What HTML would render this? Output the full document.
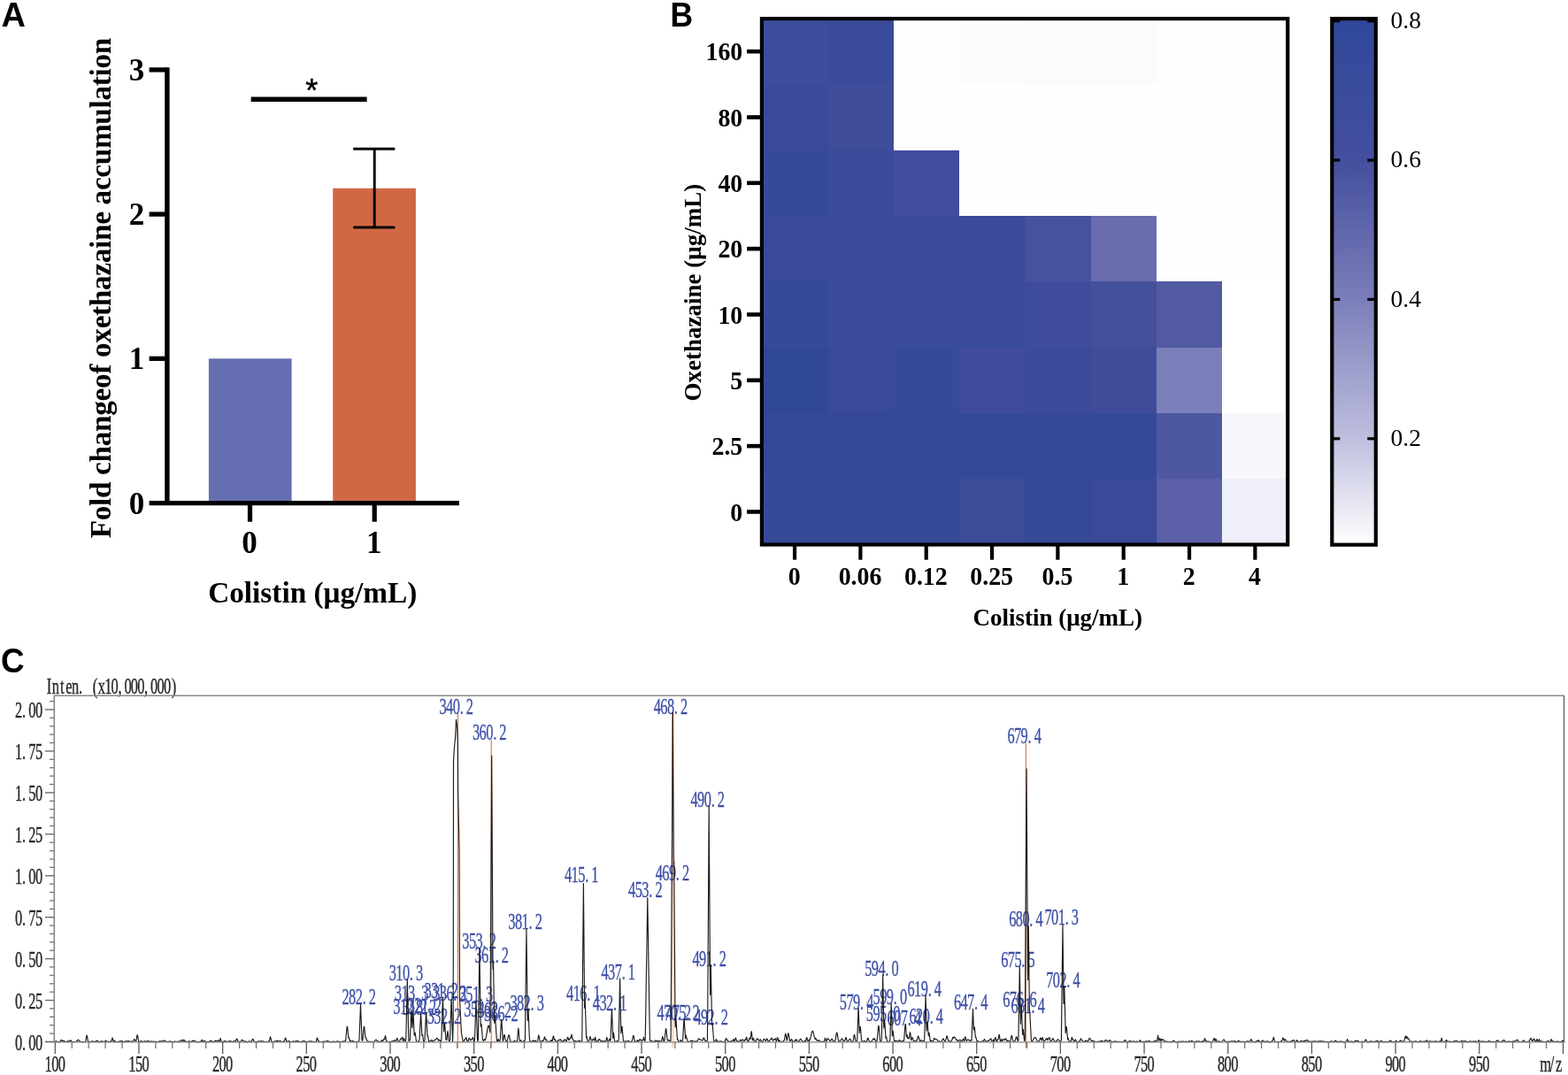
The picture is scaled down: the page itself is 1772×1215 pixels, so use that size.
<!DOCTYPE html>
<html lang="en"><head><meta charset="utf-8"><title>Figure: colistin and oxethazaine</title>
<style>html,body{margin:0;padding:0;background:#fff}body{width:1772px;height:1215px;overflow:hidden}svg{display:block}text{white-space:pre}</style>
</head><body>
<svg width="1772" height="1215" viewBox="0 0 1772 1215" role="img" aria-label="Figure with bar chart, heat map and mass spectrum">
<rect width="1772" height="1215" fill="#fff"/>
<g id="panelA">
<text x="1.4" y="30.0" font-family='"Liberation Sans", sans-serif' font-size="38" font-weight="bold" fill="#000">A</text>
<rect x="235.90" y="405.30" width="93.70" height="163.30" fill="#666eb2"/>
<rect x="376.20" y="212.80" width="93.70" height="355.80" fill="#d16845"/>
<line x1="423.20" y1="168.30" x2="423.20" y2="256.90" stroke="#000" stroke-width="2.9"/>
<line x1="399.20" y1="168.30" x2="446.30" y2="168.30" stroke="#000" stroke-width="3"/>
<line x1="399.20" y1="256.90" x2="446.30" y2="256.90" stroke="#000" stroke-width="3"/>
<line x1="188.90" y1="76.20" x2="188.90" y2="570.90" stroke="#000" stroke-width="5.4"/>
<line x1="168.60" y1="568.60" x2="518.90" y2="568.60" stroke="#000" stroke-width="5.2"/>
<line x1="168.60" y1="78.90" x2="188.90" y2="78.90" stroke="#000" stroke-width="5.3"/>
<text x="163.2" y="90.8" font-family='"Liberation Serif", serif' font-size="35" font-weight="bold" text-anchor="end" fill="#000">3</text>
<line x1="168.60" y1="242.10" x2="188.90" y2="242.10" stroke="#000" stroke-width="5.3"/>
<text x="163.2" y="254.0" font-family='"Liberation Serif", serif' font-size="35" font-weight="bold" text-anchor="end" fill="#000">2</text>
<line x1="168.60" y1="405.30" x2="188.90" y2="405.30" stroke="#000" stroke-width="5.3"/>
<text x="163.2" y="417.2" font-family='"Liberation Serif", serif' font-size="35" font-weight="bold" text-anchor="end" fill="#000">1</text>
<text x="163.2" y="580.5" font-family='"Liberation Serif", serif' font-size="35" font-weight="bold" text-anchor="end" fill="#000">0</text>
<line x1="282.50" y1="568.60" x2="282.50" y2="589.70" stroke="#000" stroke-width="5.2"/>
<text x="282.1" y="625.3" font-family='"Liberation Serif", serif' font-size="35" font-weight="bold" text-anchor="middle" fill="#000">0</text>
<line x1="423.20" y1="568.60" x2="423.20" y2="589.70" stroke="#000" stroke-width="5.2"/>
<text x="422.8" y="625.3" font-family='"Liberation Serif", serif' font-size="35" font-weight="bold" text-anchor="middle" fill="#000">1</text>
<line x1="283.70" y1="112.20" x2="414.60" y2="112.20" stroke="#000" stroke-width="5.4"/>
<text x="352.2" y="114.6" font-family='"Liberation Sans", sans-serif' font-size="36" text-anchor="middle" fill="#000" stroke="#000" stroke-width="0.5">*</text>
<text x="353.3" y="680.6" font-family='"Liberation Serif", serif' font-size="33.3" font-weight="bold" text-anchor="middle" fill="#000">Colistin (μg/mL)</text>
<text x="125.3" y="608.3" font-family='"Liberation Serif", serif' font-size="33.3" font-weight="bold" textLength="565.6" lengthAdjust="spacing" transform="rotate(-90 125.3 608.3)" fill="#000">Fold changeof oxethazaine accumulation</text>
</g>
<g id="panelB">
<text transform="translate(757.4 29.5) scale(0.935 1)" font-family='"Liberation Sans", sans-serif' font-size="38" font-weight="bold" fill="#000">B</text>
<g shape-rendering="crispEdges">
<rect x="861.00" y="21.00" width="74.00" height="74.00" fill="#3c4d9b"/>
<rect x="935.00" y="21.00" width="75.00" height="74.00" fill="#3a4b99"/>
<rect x="1010.00" y="21.00" width="74.00" height="74.00" fill="#fdfdfe"/>
<rect x="1084.00" y="21.00" width="74.00" height="74.00" fill="#fcfcfd"/>
<rect x="1158.00" y="21.00" width="75.00" height="74.00" fill="#fbfbfd"/>
<rect x="1233.00" y="21.00" width="74.00" height="74.00" fill="#fbfbfd"/>
<rect x="1307.00" y="21.00" width="74.00" height="74.00" fill="#fdfdfe"/>
<rect x="1381.00" y="21.00" width="75.00" height="74.00" fill="#fdfdfe"/>
<rect x="861.00" y="95.00" width="74.00" height="75.00" fill="#3a4b99"/>
<rect x="935.00" y="95.00" width="75.00" height="75.00" fill="#3f4c9a"/>
<rect x="1010.00" y="95.00" width="74.00" height="75.00" fill="#fefefe"/>
<rect x="1084.00" y="95.00" width="74.00" height="75.00" fill="#fefefe"/>
<rect x="1158.00" y="95.00" width="75.00" height="75.00" fill="#fefefe"/>
<rect x="1233.00" y="95.00" width="74.00" height="75.00" fill="#fefefe"/>
<rect x="1307.00" y="95.00" width="74.00" height="75.00" fill="#fefefe"/>
<rect x="1381.00" y="95.00" width="75.00" height="75.00" fill="#fdfdfe"/>
<rect x="861.00" y="170.00" width="74.00" height="74.00" fill="#374a98"/>
<rect x="935.00" y="170.00" width="75.00" height="74.00" fill="#394b99"/>
<rect x="1010.00" y="170.00" width="74.00" height="74.00" fill="#414d9c"/>
<rect x="1084.00" y="170.00" width="74.00" height="74.00" fill="#fdfdfe"/>
<rect x="1158.00" y="170.00" width="75.00" height="74.00" fill="#fefefe"/>
<rect x="1233.00" y="170.00" width="74.00" height="74.00" fill="#fefefe"/>
<rect x="1307.00" y="170.00" width="74.00" height="74.00" fill="#fefefe"/>
<rect x="1381.00" y="170.00" width="75.00" height="74.00" fill="#fefefe"/>
<rect x="861.00" y="244.00" width="74.00" height="74.00" fill="#384a98"/>
<rect x="935.00" y="244.00" width="75.00" height="74.00" fill="#3a4b99"/>
<rect x="1010.00" y="244.00" width="74.00" height="74.00" fill="#384a98"/>
<rect x="1084.00" y="244.00" width="74.00" height="74.00" fill="#394b99"/>
<rect x="1158.00" y="244.00" width="75.00" height="74.00" fill="#47529e"/>
<rect x="1233.00" y="244.00" width="74.00" height="74.00" fill="#696caf"/>
<rect x="1307.00" y="244.00" width="74.00" height="74.00" fill="#fefefe"/>
<rect x="1381.00" y="244.00" width="75.00" height="74.00" fill="#fefefe"/>
<rect x="861.00" y="318.00" width="74.00" height="75.00" fill="#374a98"/>
<rect x="935.00" y="318.00" width="75.00" height="75.00" fill="#3a4b99"/>
<rect x="1010.00" y="318.00" width="74.00" height="75.00" fill="#3a4b99"/>
<rect x="1084.00" y="318.00" width="74.00" height="75.00" fill="#3a4b99"/>
<rect x="1158.00" y="318.00" width="75.00" height="75.00" fill="#3f4c9b"/>
<rect x="1233.00" y="318.00" width="74.00" height="75.00" fill="#45509d"/>
<rect x="1307.00" y="318.00" width="74.00" height="75.00" fill="#525aa3"/>
<rect x="1381.00" y="318.00" width="75.00" height="75.00" fill="#ffffff"/>
<rect x="861.00" y="393.00" width="74.00" height="74.00" fill="#314897"/>
<rect x="935.00" y="393.00" width="75.00" height="74.00" fill="#384a98"/>
<rect x="1010.00" y="393.00" width="74.00" height="74.00" fill="#374a98"/>
<rect x="1084.00" y="393.00" width="74.00" height="74.00" fill="#404c9b"/>
<rect x="1158.00" y="393.00" width="75.00" height="74.00" fill="#3a4b99"/>
<rect x="1233.00" y="393.00" width="74.00" height="74.00" fill="#404c9a"/>
<rect x="1307.00" y="393.00" width="74.00" height="74.00" fill="#7b7fb9"/>
<rect x="1381.00" y="393.00" width="75.00" height="74.00" fill="#ffffff"/>
<rect x="861.00" y="467.00" width="74.00" height="74.00" fill="#354997"/>
<rect x="935.00" y="467.00" width="75.00" height="74.00" fill="#364997"/>
<rect x="1010.00" y="467.00" width="74.00" height="74.00" fill="#364997"/>
<rect x="1084.00" y="467.00" width="74.00" height="74.00" fill="#364997"/>
<rect x="1158.00" y="467.00" width="75.00" height="74.00" fill="#354997"/>
<rect x="1233.00" y="467.00" width="74.00" height="74.00" fill="#354997"/>
<rect x="1307.00" y="467.00" width="74.00" height="74.00" fill="#4e58a1"/>
<rect x="1381.00" y="467.00" width="75.00" height="74.00" fill="#f8f8fc"/>
<rect x="861.00" y="541.00" width="74.00" height="75.00" fill="#374a98"/>
<rect x="935.00" y="541.00" width="75.00" height="75.00" fill="#374a98"/>
<rect x="1010.00" y="541.00" width="74.00" height="75.00" fill="#374a98"/>
<rect x="1084.00" y="541.00" width="74.00" height="75.00" fill="#3b4c99"/>
<rect x="1158.00" y="541.00" width="75.00" height="75.00" fill="#364997"/>
<rect x="1233.00" y="541.00" width="74.00" height="75.00" fill="#384a98"/>
<rect x="1307.00" y="541.00" width="74.00" height="75.00" fill="#5b60a8"/>
<rect x="1381.00" y="541.00" width="75.00" height="75.00" fill="#eeeff9"/>
</g>
<rect x="860.90" y="21.10" width="594.34" height="594.44" fill="none" stroke="#000" stroke-width="4.2"/>
<line x1="844.10" y1="58.16" x2="859.50" y2="58.16" stroke="#000" stroke-width="4.6"/>
<text transform="translate(839.3 68.36) scale(0.945 1)" font-family='"Liberation Serif", serif' font-size="29.5" font-weight="bold" text-anchor="end" fill="#000">160</text>
<line x1="844.10" y1="132.50" x2="859.50" y2="132.50" stroke="#000" stroke-width="4.6"/>
<text transform="translate(839.3 142.69) scale(0.945 1)" font-family='"Liberation Serif", serif' font-size="29.5" font-weight="bold" text-anchor="end" fill="#000">80</text>
<line x1="844.10" y1="206.82" x2="859.50" y2="206.82" stroke="#000" stroke-width="4.6"/>
<text transform="translate(839.3 217.02) scale(0.945 1)" font-family='"Liberation Serif", serif' font-size="29.5" font-weight="bold" text-anchor="end" fill="#000">40</text>
<line x1="844.10" y1="281.15" x2="859.50" y2="281.15" stroke="#000" stroke-width="4.6"/>
<text transform="translate(839.3 291.35) scale(0.945 1)" font-family='"Liberation Serif", serif' font-size="29.5" font-weight="bold" text-anchor="end" fill="#000">20</text>
<line x1="844.10" y1="355.49" x2="859.50" y2="355.49" stroke="#000" stroke-width="4.6"/>
<text transform="translate(839.3 365.69) scale(0.945 1)" font-family='"Liberation Serif", serif' font-size="29.5" font-weight="bold" text-anchor="end" fill="#000">10</text>
<line x1="844.10" y1="429.81" x2="859.50" y2="429.81" stroke="#000" stroke-width="4.6"/>
<text transform="translate(839.3 440.01) scale(0.945 1)" font-family='"Liberation Serif", serif' font-size="29.5" font-weight="bold" text-anchor="end" fill="#000">5</text>
<line x1="844.10" y1="504.14" x2="859.50" y2="504.14" stroke="#000" stroke-width="4.6"/>
<text transform="translate(839.3 514.35) scale(0.945 1)" font-family='"Liberation Serif", serif' font-size="29.5" font-weight="bold" text-anchor="end" fill="#000">2.5</text>
<line x1="844.10" y1="578.48" x2="859.50" y2="578.48" stroke="#000" stroke-width="4.6"/>
<text transform="translate(839.3 588.68) scale(0.945 1)" font-family='"Liberation Serif", serif' font-size="29.5" font-weight="bold" text-anchor="end" fill="#000">0</text>
<line x1="898.06" y1="617.00" x2="898.06" y2="632.70" stroke="#000" stroke-width="4.2"/>
<text transform="translate(897.66 661.3) scale(0.945 1)" font-family='"Liberation Serif", serif' font-size="29.5" font-weight="bold" text-anchor="middle" fill="#000">0</text>
<line x1="972.39" y1="617.00" x2="972.39" y2="632.70" stroke="#000" stroke-width="4.2"/>
<text transform="translate(972.0 661.3) scale(0.945 1)" font-family='"Liberation Serif", serif' font-size="29.5" font-weight="bold" text-anchor="middle" fill="#000">0.06</text>
<line x1="1046.72" y1="617.00" x2="1046.72" y2="632.70" stroke="#000" stroke-width="4.2"/>
<text transform="translate(1046.32 661.3) scale(0.945 1)" font-family='"Liberation Serif", serif' font-size="29.5" font-weight="bold" text-anchor="middle" fill="#000">0.12</text>
<line x1="1121.05" y1="617.00" x2="1121.05" y2="632.70" stroke="#000" stroke-width="4.2"/>
<text transform="translate(1120.65 661.3) scale(0.945 1)" font-family='"Liberation Serif", serif' font-size="29.5" font-weight="bold" text-anchor="middle" fill="#000">0.25</text>
<line x1="1195.38" y1="617.00" x2="1195.38" y2="632.70" stroke="#000" stroke-width="4.2"/>
<text transform="translate(1194.98 661.3) scale(0.945 1)" font-family='"Liberation Serif", serif' font-size="29.5" font-weight="bold" text-anchor="middle" fill="#000">0.5</text>
<line x1="1269.71" y1="617.00" x2="1269.71" y2="632.70" stroke="#000" stroke-width="4.2"/>
<text transform="translate(1269.31 661.3) scale(0.945 1)" font-family='"Liberation Serif", serif' font-size="29.5" font-weight="bold" text-anchor="middle" fill="#000">1</text>
<line x1="1344.05" y1="617.00" x2="1344.05" y2="632.70" stroke="#000" stroke-width="4.2"/>
<text transform="translate(1343.64 661.3) scale(0.945 1)" font-family='"Liberation Serif", serif' font-size="29.5" font-weight="bold" text-anchor="middle" fill="#000">2</text>
<line x1="1418.38" y1="617.00" x2="1418.38" y2="632.70" stroke="#000" stroke-width="4.2"/>
<text transform="translate(1417.97 661.3) scale(0.945 1)" font-family='"Liberation Serif", serif' font-size="29.5" font-weight="bold" text-anchor="middle" fill="#000">4</text>
<text x="1195.2" y="707.2" font-family='"Liberation Serif", serif' font-size="27" font-weight="bold" text-anchor="middle" fill="#000">Colistin (μg/mL)</text>
<text x="792.2" y="330.6" font-family='"Liberation Serif", serif' font-size="27" font-weight="bold" text-anchor="middle" transform="rotate(-90 792.2 330.6)" fill="#000">Oxethazaine (μg/mL)</text>
<defs><linearGradient id="cb" x1="0" y1="0" x2="0" y2="1"><stop offset="0" stop-color="#30489a"/><stop offset="0.27" stop-color="#444f9e"/><stop offset="0.534" stop-color="#7b7eb9"/><stop offset="0.80" stop-color="#bfbfdf"/><stop offset="1" stop-color="#ffffff"/></linearGradient></defs>
<rect x="1505.3" y="21.1" width="49.5" height="594.6" fill="url(#cb)" stroke="#000" stroke-width="4.2"/>
<line x1="1507.00" y1="23.70" x2="1514.30" y2="23.70" stroke="#000" stroke-width="3.2"/>
<line x1="1545.30" y1="23.70" x2="1553.00" y2="23.70" stroke="#000" stroke-width="3.2"/>
<text x="1571.6" y="31.8" font-family='"Liberation Serif", serif' font-size="27.5" fill="#000">0.8</text>
<line x1="1507.00" y1="181.05" x2="1514.30" y2="181.05" stroke="#000" stroke-width="3.2"/>
<line x1="1545.30" y1="181.05" x2="1553.00" y2="181.05" stroke="#000" stroke-width="3.2"/>
<text x="1571.6" y="189.15" font-family='"Liberation Serif", serif' font-size="27.5" fill="#000">0.6</text>
<line x1="1507.00" y1="338.40" x2="1514.30" y2="338.40" stroke="#000" stroke-width="3.2"/>
<line x1="1545.30" y1="338.40" x2="1553.00" y2="338.40" stroke="#000" stroke-width="3.2"/>
<text x="1571.6" y="346.5" font-family='"Liberation Serif", serif' font-size="27.5" fill="#000">0.4</text>
<line x1="1507.00" y1="495.80" x2="1514.30" y2="495.80" stroke="#000" stroke-width="3.2"/>
<line x1="1545.30" y1="495.80" x2="1553.00" y2="495.80" stroke="#000" stroke-width="3.2"/>
<text x="1571.6" y="503.9" font-family='"Liberation Serif", serif' font-size="27.5" fill="#000">0.2</text>
</g>
<g id="panelC">
<text transform="translate(0.9 759.6) scale(0.955 1)" font-family='"Liberation Sans", sans-serif' font-size="38.6" font-weight="bold" fill="#000">C</text>
<text transform="translate(51.8 784.0) scale(0.67 1)" x="5.5 16.6 27.7 38.8 49.8 58.5 72.0 83.1 94.1 105.2 116.3 124.9 138.4 149.5 160.6 169.2 182.7 193.8 204.9 216.0" y="0" text-anchor="middle" font-family='"Liberation Serif", "Noto Serif CJK SC", serif' font-size="24.5" fill="#2b2826" stroke="#2b2826" stroke-width="0.4">Inten. (x10,000,000)</text>
<path d="M61.3 1177.5 V786.3 H1767.5" fill="none" stroke="#8d8986" stroke-width="1.6"/>
<line x1="1767.50" y1="786.00" x2="1767.50" y2="1177.50" stroke="#5f5b59" stroke-width="1.3"/>
<line x1="51.00" y1="1177.50" x2="62.00" y2="1177.50" stroke="#8a8683" stroke-width="1.5"/>
<line x1="51.00" y1="1177.50" x2="61.30" y2="1177.50" stroke="#6f6b68" stroke-width="1.4"/>
<text transform="translate(17.4 1186.5) scale(0.67 1)" x="5.7 14.5 28.4 39.7" y="0" text-anchor="middle" font-family='"Liberation Serif", "Noto Serif CJK SC", serif' font-size="24.5" fill="#2b2826" stroke="#2b2826" stroke-width="0.4">0.00</text>
<line x1="56.00" y1="1168.11" x2="61.30" y2="1168.11" stroke="#7a7673" stroke-width="1.3"/>
<line x1="56.00" y1="1158.72" x2="61.30" y2="1158.72" stroke="#7a7673" stroke-width="1.3"/>
<line x1="56.00" y1="1149.34" x2="61.30" y2="1149.34" stroke="#7a7673" stroke-width="1.3"/>
<line x1="56.00" y1="1139.95" x2="61.30" y2="1139.95" stroke="#7a7673" stroke-width="1.3"/>
<line x1="51.00" y1="1130.56" x2="61.30" y2="1130.56" stroke="#6f6b68" stroke-width="1.4"/>
<text transform="translate(17.4 1139.6) scale(0.67 1)" x="5.7 14.5 28.4 39.7" y="0" text-anchor="middle" font-family='"Liberation Serif", "Noto Serif CJK SC", serif' font-size="24.5" fill="#2b2826" stroke="#2b2826" stroke-width="0.4">0.25</text>
<line x1="56.00" y1="1121.17" x2="61.30" y2="1121.17" stroke="#7a7673" stroke-width="1.3"/>
<line x1="56.00" y1="1111.79" x2="61.30" y2="1111.79" stroke="#7a7673" stroke-width="1.3"/>
<line x1="56.00" y1="1102.40" x2="61.30" y2="1102.40" stroke="#7a7673" stroke-width="1.3"/>
<line x1="56.00" y1="1093.01" x2="61.30" y2="1093.01" stroke="#7a7673" stroke-width="1.3"/>
<line x1="51.00" y1="1083.62" x2="61.30" y2="1083.62" stroke="#6f6b68" stroke-width="1.4"/>
<text transform="translate(17.4 1092.6) scale(0.67 1)" x="5.7 14.5 28.4 39.7" y="0" text-anchor="middle" font-family='"Liberation Serif", "Noto Serif CJK SC", serif' font-size="24.5" fill="#2b2826" stroke="#2b2826" stroke-width="0.4">0.50</text>
<line x1="56.00" y1="1074.24" x2="61.30" y2="1074.24" stroke="#7a7673" stroke-width="1.3"/>
<line x1="56.00" y1="1064.85" x2="61.30" y2="1064.85" stroke="#7a7673" stroke-width="1.3"/>
<line x1="56.00" y1="1055.46" x2="61.30" y2="1055.46" stroke="#7a7673" stroke-width="1.3"/>
<line x1="56.00" y1="1046.08" x2="61.30" y2="1046.08" stroke="#7a7673" stroke-width="1.3"/>
<line x1="51.00" y1="1036.69" x2="61.30" y2="1036.69" stroke="#6f6b68" stroke-width="1.4"/>
<text transform="translate(17.4 1045.7) scale(0.67 1)" x="5.7 14.5 28.4 39.7" y="0" text-anchor="middle" font-family='"Liberation Serif", "Noto Serif CJK SC", serif' font-size="24.5" fill="#2b2826" stroke="#2b2826" stroke-width="0.4">0.75</text>
<line x1="56.00" y1="1027.30" x2="61.30" y2="1027.30" stroke="#7a7673" stroke-width="1.3"/>
<line x1="56.00" y1="1017.91" x2="61.30" y2="1017.91" stroke="#7a7673" stroke-width="1.3"/>
<line x1="56.00" y1="1008.52" x2="61.30" y2="1008.52" stroke="#7a7673" stroke-width="1.3"/>
<line x1="56.00" y1="999.14" x2="61.30" y2="999.14" stroke="#7a7673" stroke-width="1.3"/>
<line x1="51.00" y1="989.75" x2="61.30" y2="989.75" stroke="#6f6b68" stroke-width="1.4"/>
<text transform="translate(17.4 998.8) scale(0.67 1)" x="5.7 14.5 28.4 39.7" y="0" text-anchor="middle" font-family='"Liberation Serif", "Noto Serif CJK SC", serif' font-size="24.5" fill="#2b2826" stroke="#2b2826" stroke-width="0.4">1.00</text>
<line x1="56.00" y1="980.36" x2="61.30" y2="980.36" stroke="#7a7673" stroke-width="1.3"/>
<line x1="56.00" y1="970.98" x2="61.30" y2="970.98" stroke="#7a7673" stroke-width="1.3"/>
<line x1="56.00" y1="961.59" x2="61.30" y2="961.59" stroke="#7a7673" stroke-width="1.3"/>
<line x1="56.00" y1="952.20" x2="61.30" y2="952.20" stroke="#7a7673" stroke-width="1.3"/>
<line x1="51.00" y1="942.81" x2="61.30" y2="942.81" stroke="#6f6b68" stroke-width="1.4"/>
<text transform="translate(17.4 951.8) scale(0.67 1)" x="5.7 14.5 28.4 39.7" y="0" text-anchor="middle" font-family='"Liberation Serif", "Noto Serif CJK SC", serif' font-size="24.5" fill="#2b2826" stroke="#2b2826" stroke-width="0.4">1.25</text>
<line x1="56.00" y1="933.42" x2="61.30" y2="933.42" stroke="#7a7673" stroke-width="1.3"/>
<line x1="56.00" y1="924.04" x2="61.30" y2="924.04" stroke="#7a7673" stroke-width="1.3"/>
<line x1="56.00" y1="914.65" x2="61.30" y2="914.65" stroke="#7a7673" stroke-width="1.3"/>
<line x1="56.00" y1="905.26" x2="61.30" y2="905.26" stroke="#7a7673" stroke-width="1.3"/>
<line x1="51.00" y1="895.88" x2="61.30" y2="895.88" stroke="#6f6b68" stroke-width="1.4"/>
<text transform="translate(17.4 904.9) scale(0.67 1)" x="5.7 14.5 28.4 39.7" y="0" text-anchor="middle" font-family='"Liberation Serif", "Noto Serif CJK SC", serif' font-size="24.5" fill="#2b2826" stroke="#2b2826" stroke-width="0.4">1.50</text>
<line x1="56.00" y1="886.49" x2="61.30" y2="886.49" stroke="#7a7673" stroke-width="1.3"/>
<line x1="56.00" y1="877.10" x2="61.30" y2="877.10" stroke="#7a7673" stroke-width="1.3"/>
<line x1="56.00" y1="867.71" x2="61.30" y2="867.71" stroke="#7a7673" stroke-width="1.3"/>
<line x1="56.00" y1="858.33" x2="61.30" y2="858.33" stroke="#7a7673" stroke-width="1.3"/>
<line x1="51.00" y1="848.94" x2="61.30" y2="848.94" stroke="#6f6b68" stroke-width="1.4"/>
<text transform="translate(17.4 857.9) scale(0.67 1)" x="5.7 14.5 28.4 39.7" y="0" text-anchor="middle" font-family='"Liberation Serif", "Noto Serif CJK SC", serif' font-size="24.5" fill="#2b2826" stroke="#2b2826" stroke-width="0.4">1.75</text>
<line x1="56.00" y1="839.55" x2="61.30" y2="839.55" stroke="#7a7673" stroke-width="1.3"/>
<line x1="56.00" y1="830.16" x2="61.30" y2="830.16" stroke="#7a7673" stroke-width="1.3"/>
<line x1="56.00" y1="820.77" x2="61.30" y2="820.77" stroke="#7a7673" stroke-width="1.3"/>
<line x1="56.00" y1="811.39" x2="61.30" y2="811.39" stroke="#7a7673" stroke-width="1.3"/>
<line x1="51.00" y1="802.00" x2="61.30" y2="802.00" stroke="#6f6b68" stroke-width="1.4"/>
<text transform="translate(17.4 811.0) scale(0.67 1)" x="5.7 14.5 28.4 39.7" y="0" text-anchor="middle" font-family='"Liberation Serif", "Noto Serif CJK SC", serif' font-size="24.5" fill="#2b2826" stroke="#2b2826" stroke-width="0.4">2.00</text>
<line x1="56.00" y1="792.61" x2="61.30" y2="792.61" stroke="#7a7673" stroke-width="1.3"/>
<line x1="62.30" y1="1177.50" x2="62.30" y2="1191.00" stroke="#5d5957" stroke-width="1.3"/>
<text transform="translate(50.9 1211.0) scale(0.67 1)" x="5.7 17.0 28.4" y="0" text-anchor="middle" font-family='"Liberation Serif", "Noto Serif CJK SC", serif' font-size="24.5" fill="#2b2826" stroke="#2b2826" stroke-width="0.4">100</text>
<line x1="81.23" y1="1177.50" x2="81.23" y2="1185.00" stroke="#6f6b68" stroke-width="1.2"/>
<line x1="100.17" y1="1177.50" x2="100.17" y2="1185.00" stroke="#6f6b68" stroke-width="1.2"/>
<line x1="119.10" y1="1177.50" x2="119.10" y2="1185.00" stroke="#6f6b68" stroke-width="1.2"/>
<line x1="138.04" y1="1177.50" x2="138.04" y2="1185.00" stroke="#6f6b68" stroke-width="1.2"/>
<line x1="156.97" y1="1177.50" x2="156.97" y2="1191.00" stroke="#5d5957" stroke-width="1.3"/>
<text transform="translate(145.6 1211.0) scale(0.67 1)" x="5.7 17.0 28.4" y="0" text-anchor="middle" font-family='"Liberation Serif", "Noto Serif CJK SC", serif' font-size="24.5" fill="#2b2826" stroke="#2b2826" stroke-width="0.4">150</text>
<line x1="175.91" y1="1177.50" x2="175.91" y2="1185.00" stroke="#6f6b68" stroke-width="1.2"/>
<line x1="194.84" y1="1177.50" x2="194.84" y2="1185.00" stroke="#6f6b68" stroke-width="1.2"/>
<line x1="213.78" y1="1177.50" x2="213.78" y2="1185.00" stroke="#6f6b68" stroke-width="1.2"/>
<line x1="232.71" y1="1177.50" x2="232.71" y2="1185.00" stroke="#6f6b68" stroke-width="1.2"/>
<line x1="251.65" y1="1177.50" x2="251.65" y2="1191.00" stroke="#5d5957" stroke-width="1.3"/>
<text transform="translate(240.2 1211.0) scale(0.67 1)" x="5.7 17.0 28.4" y="0" text-anchor="middle" font-family='"Liberation Serif", "Noto Serif CJK SC", serif' font-size="24.5" fill="#2b2826" stroke="#2b2826" stroke-width="0.4">200</text>
<line x1="270.58" y1="1177.50" x2="270.58" y2="1185.00" stroke="#6f6b68" stroke-width="1.2"/>
<line x1="289.52" y1="1177.50" x2="289.52" y2="1185.00" stroke="#6f6b68" stroke-width="1.2"/>
<line x1="308.45" y1="1177.50" x2="308.45" y2="1185.00" stroke="#6f6b68" stroke-width="1.2"/>
<line x1="327.39" y1="1177.50" x2="327.39" y2="1185.00" stroke="#6f6b68" stroke-width="1.2"/>
<line x1="346.32" y1="1177.50" x2="346.32" y2="1191.00" stroke="#5d5957" stroke-width="1.3"/>
<text transform="translate(334.9 1211.0) scale(0.67 1)" x="5.7 17.0 28.4" y="0" text-anchor="middle" font-family='"Liberation Serif", "Noto Serif CJK SC", serif' font-size="24.5" fill="#2b2826" stroke="#2b2826" stroke-width="0.4">250</text>
<line x1="365.26" y1="1177.50" x2="365.26" y2="1185.00" stroke="#6f6b68" stroke-width="1.2"/>
<line x1="384.19" y1="1177.50" x2="384.19" y2="1185.00" stroke="#6f6b68" stroke-width="1.2"/>
<line x1="403.13" y1="1177.50" x2="403.13" y2="1185.00" stroke="#6f6b68" stroke-width="1.2"/>
<line x1="422.06" y1="1177.50" x2="422.06" y2="1185.00" stroke="#6f6b68" stroke-width="1.2"/>
<line x1="441.00" y1="1177.50" x2="441.00" y2="1191.00" stroke="#5d5957" stroke-width="1.3"/>
<text transform="translate(429.6 1211.0) scale(0.67 1)" x="5.7 17.0 28.4" y="0" text-anchor="middle" font-family='"Liberation Serif", "Noto Serif CJK SC", serif' font-size="24.5" fill="#2b2826" stroke="#2b2826" stroke-width="0.4">300</text>
<line x1="459.94" y1="1177.50" x2="459.94" y2="1185.00" stroke="#6f6b68" stroke-width="1.2"/>
<line x1="478.87" y1="1177.50" x2="478.87" y2="1185.00" stroke="#6f6b68" stroke-width="1.2"/>
<line x1="497.81" y1="1177.50" x2="497.81" y2="1185.00" stroke="#6f6b68" stroke-width="1.2"/>
<line x1="516.74" y1="1177.50" x2="516.74" y2="1185.00" stroke="#6f6b68" stroke-width="1.2"/>
<line x1="535.67" y1="1177.50" x2="535.67" y2="1191.00" stroke="#5d5957" stroke-width="1.3"/>
<text transform="translate(524.3 1211.0) scale(0.67 1)" x="5.7 17.0 28.4" y="0" text-anchor="middle" font-family='"Liberation Serif", "Noto Serif CJK SC", serif' font-size="24.5" fill="#2b2826" stroke="#2b2826" stroke-width="0.4">350</text>
<line x1="554.61" y1="1177.50" x2="554.61" y2="1185.00" stroke="#6f6b68" stroke-width="1.2"/>
<line x1="573.54" y1="1177.50" x2="573.54" y2="1185.00" stroke="#6f6b68" stroke-width="1.2"/>
<line x1="592.48" y1="1177.50" x2="592.48" y2="1185.00" stroke="#6f6b68" stroke-width="1.2"/>
<line x1="611.41" y1="1177.50" x2="611.41" y2="1185.00" stroke="#6f6b68" stroke-width="1.2"/>
<line x1="630.35" y1="1177.50" x2="630.35" y2="1191.00" stroke="#5d5957" stroke-width="1.3"/>
<text transform="translate(618.9 1211.0) scale(0.67 1)" x="5.7 17.0 28.4" y="0" text-anchor="middle" font-family='"Liberation Serif", "Noto Serif CJK SC", serif' font-size="24.5" fill="#2b2826" stroke="#2b2826" stroke-width="0.4">400</text>
<line x1="649.28" y1="1177.50" x2="649.28" y2="1185.00" stroke="#6f6b68" stroke-width="1.2"/>
<line x1="668.22" y1="1177.50" x2="668.22" y2="1185.00" stroke="#6f6b68" stroke-width="1.2"/>
<line x1="687.15" y1="1177.50" x2="687.15" y2="1185.00" stroke="#6f6b68" stroke-width="1.2"/>
<line x1="706.09" y1="1177.50" x2="706.09" y2="1185.00" stroke="#6f6b68" stroke-width="1.2"/>
<line x1="725.02" y1="1177.50" x2="725.02" y2="1191.00" stroke="#5d5957" stroke-width="1.3"/>
<text transform="translate(713.6 1211.0) scale(0.67 1)" x="5.7 17.0 28.4" y="0" text-anchor="middle" font-family='"Liberation Serif", "Noto Serif CJK SC", serif' font-size="24.5" fill="#2b2826" stroke="#2b2826" stroke-width="0.4">450</text>
<line x1="743.96" y1="1177.50" x2="743.96" y2="1185.00" stroke="#6f6b68" stroke-width="1.2"/>
<line x1="762.89" y1="1177.50" x2="762.89" y2="1185.00" stroke="#6f6b68" stroke-width="1.2"/>
<line x1="781.83" y1="1177.50" x2="781.83" y2="1185.00" stroke="#6f6b68" stroke-width="1.2"/>
<line x1="800.76" y1="1177.50" x2="800.76" y2="1185.00" stroke="#6f6b68" stroke-width="1.2"/>
<line x1="819.70" y1="1177.50" x2="819.70" y2="1191.00" stroke="#5d5957" stroke-width="1.3"/>
<text transform="translate(808.3 1211.0) scale(0.67 1)" x="5.7 17.0 28.4" y="0" text-anchor="middle" font-family='"Liberation Serif", "Noto Serif CJK SC", serif' font-size="24.5" fill="#2b2826" stroke="#2b2826" stroke-width="0.4">500</text>
<line x1="838.63" y1="1177.50" x2="838.63" y2="1185.00" stroke="#6f6b68" stroke-width="1.2"/>
<line x1="857.57" y1="1177.50" x2="857.57" y2="1185.00" stroke="#6f6b68" stroke-width="1.2"/>
<line x1="876.50" y1="1177.50" x2="876.50" y2="1185.00" stroke="#6f6b68" stroke-width="1.2"/>
<line x1="895.44" y1="1177.50" x2="895.44" y2="1185.00" stroke="#6f6b68" stroke-width="1.2"/>
<line x1="914.37" y1="1177.50" x2="914.37" y2="1191.00" stroke="#5d5957" stroke-width="1.3"/>
<text transform="translate(903.0 1211.0) scale(0.67 1)" x="5.7 17.0 28.4" y="0" text-anchor="middle" font-family='"Liberation Serif", "Noto Serif CJK SC", serif' font-size="24.5" fill="#2b2826" stroke="#2b2826" stroke-width="0.4">550</text>
<line x1="933.31" y1="1177.50" x2="933.31" y2="1185.00" stroke="#6f6b68" stroke-width="1.2"/>
<line x1="952.24" y1="1177.50" x2="952.24" y2="1185.00" stroke="#6f6b68" stroke-width="1.2"/>
<line x1="971.18" y1="1177.50" x2="971.18" y2="1185.00" stroke="#6f6b68" stroke-width="1.2"/>
<line x1="990.11" y1="1177.50" x2="990.11" y2="1185.00" stroke="#6f6b68" stroke-width="1.2"/>
<line x1="1009.05" y1="1177.50" x2="1009.05" y2="1191.00" stroke="#5d5957" stroke-width="1.3"/>
<text transform="translate(997.6 1211.0) scale(0.67 1)" x="5.7 17.0 28.4" y="0" text-anchor="middle" font-family='"Liberation Serif", "Noto Serif CJK SC", serif' font-size="24.5" fill="#2b2826" stroke="#2b2826" stroke-width="0.4">600</text>
<line x1="1027.98" y1="1177.50" x2="1027.98" y2="1185.00" stroke="#6f6b68" stroke-width="1.2"/>
<line x1="1046.92" y1="1177.50" x2="1046.92" y2="1185.00" stroke="#6f6b68" stroke-width="1.2"/>
<line x1="1065.86" y1="1177.50" x2="1065.86" y2="1185.00" stroke="#6f6b68" stroke-width="1.2"/>
<line x1="1084.79" y1="1177.50" x2="1084.79" y2="1185.00" stroke="#6f6b68" stroke-width="1.2"/>
<line x1="1103.72" y1="1177.50" x2="1103.72" y2="1191.00" stroke="#5d5957" stroke-width="1.3"/>
<text transform="translate(1092.3 1211.0) scale(0.67 1)" x="5.7 17.0 28.4" y="0" text-anchor="middle" font-family='"Liberation Serif", "Noto Serif CJK SC", serif' font-size="24.5" fill="#2b2826" stroke="#2b2826" stroke-width="0.4">650</text>
<line x1="1122.66" y1="1177.50" x2="1122.66" y2="1185.00" stroke="#6f6b68" stroke-width="1.2"/>
<line x1="1141.60" y1="1177.50" x2="1141.60" y2="1185.00" stroke="#6f6b68" stroke-width="1.2"/>
<line x1="1160.53" y1="1177.50" x2="1160.53" y2="1185.00" stroke="#6f6b68" stroke-width="1.2"/>
<line x1="1179.46" y1="1177.50" x2="1179.46" y2="1185.00" stroke="#6f6b68" stroke-width="1.2"/>
<line x1="1198.40" y1="1177.50" x2="1198.40" y2="1191.00" stroke="#5d5957" stroke-width="1.3"/>
<text transform="translate(1187.0 1211.0) scale(0.67 1)" x="5.7 17.0 28.4" y="0" text-anchor="middle" font-family='"Liberation Serif", "Noto Serif CJK SC", serif' font-size="24.5" fill="#2b2826" stroke="#2b2826" stroke-width="0.4">700</text>
<line x1="1217.34" y1="1177.50" x2="1217.34" y2="1185.00" stroke="#6f6b68" stroke-width="1.2"/>
<line x1="1236.27" y1="1177.50" x2="1236.27" y2="1185.00" stroke="#6f6b68" stroke-width="1.2"/>
<line x1="1255.20" y1="1177.50" x2="1255.20" y2="1185.00" stroke="#6f6b68" stroke-width="1.2"/>
<line x1="1274.14" y1="1177.50" x2="1274.14" y2="1185.00" stroke="#6f6b68" stroke-width="1.2"/>
<line x1="1293.07" y1="1177.50" x2="1293.07" y2="1191.00" stroke="#5d5957" stroke-width="1.3"/>
<text transform="translate(1281.7 1211.0) scale(0.67 1)" x="5.7 17.0 28.4" y="0" text-anchor="middle" font-family='"Liberation Serif", "Noto Serif CJK SC", serif' font-size="24.5" fill="#2b2826" stroke="#2b2826" stroke-width="0.4">750</text>
<line x1="1312.01" y1="1177.50" x2="1312.01" y2="1185.00" stroke="#6f6b68" stroke-width="1.2"/>
<line x1="1330.94" y1="1177.50" x2="1330.94" y2="1185.00" stroke="#6f6b68" stroke-width="1.2"/>
<line x1="1349.88" y1="1177.50" x2="1349.88" y2="1185.00" stroke="#6f6b68" stroke-width="1.2"/>
<line x1="1368.81" y1="1177.50" x2="1368.81" y2="1185.00" stroke="#6f6b68" stroke-width="1.2"/>
<line x1="1387.75" y1="1177.50" x2="1387.75" y2="1191.00" stroke="#5d5957" stroke-width="1.3"/>
<text transform="translate(1376.3 1211.0) scale(0.67 1)" x="5.7 17.0 28.4" y="0" text-anchor="middle" font-family='"Liberation Serif", "Noto Serif CJK SC", serif' font-size="24.5" fill="#2b2826" stroke="#2b2826" stroke-width="0.4">800</text>
<line x1="1406.68" y1="1177.50" x2="1406.68" y2="1185.00" stroke="#6f6b68" stroke-width="1.2"/>
<line x1="1425.62" y1="1177.50" x2="1425.62" y2="1185.00" stroke="#6f6b68" stroke-width="1.2"/>
<line x1="1444.55" y1="1177.50" x2="1444.55" y2="1185.00" stroke="#6f6b68" stroke-width="1.2"/>
<line x1="1463.49" y1="1177.50" x2="1463.49" y2="1185.00" stroke="#6f6b68" stroke-width="1.2"/>
<line x1="1482.42" y1="1177.50" x2="1482.42" y2="1191.00" stroke="#5d5957" stroke-width="1.3"/>
<text transform="translate(1471.0 1211.0) scale(0.67 1)" x="5.7 17.0 28.4" y="0" text-anchor="middle" font-family='"Liberation Serif", "Noto Serif CJK SC", serif' font-size="24.5" fill="#2b2826" stroke="#2b2826" stroke-width="0.4">850</text>
<line x1="1501.36" y1="1177.50" x2="1501.36" y2="1185.00" stroke="#6f6b68" stroke-width="1.2"/>
<line x1="1520.29" y1="1177.50" x2="1520.29" y2="1185.00" stroke="#6f6b68" stroke-width="1.2"/>
<line x1="1539.23" y1="1177.50" x2="1539.23" y2="1185.00" stroke="#6f6b68" stroke-width="1.2"/>
<line x1="1558.16" y1="1177.50" x2="1558.16" y2="1185.00" stroke="#6f6b68" stroke-width="1.2"/>
<line x1="1577.10" y1="1177.50" x2="1577.10" y2="1191.00" stroke="#5d5957" stroke-width="1.3"/>
<text transform="translate(1565.7 1211.0) scale(0.67 1)" x="5.7 17.0 28.4" y="0" text-anchor="middle" font-family='"Liberation Serif", "Noto Serif CJK SC", serif' font-size="24.5" fill="#2b2826" stroke="#2b2826" stroke-width="0.4">900</text>
<line x1="1596.03" y1="1177.50" x2="1596.03" y2="1185.00" stroke="#6f6b68" stroke-width="1.2"/>
<line x1="1614.97" y1="1177.50" x2="1614.97" y2="1185.00" stroke="#6f6b68" stroke-width="1.2"/>
<line x1="1633.90" y1="1177.50" x2="1633.90" y2="1185.00" stroke="#6f6b68" stroke-width="1.2"/>
<line x1="1652.84" y1="1177.50" x2="1652.84" y2="1185.00" stroke="#6f6b68" stroke-width="1.2"/>
<line x1="1671.77" y1="1177.50" x2="1671.77" y2="1191.00" stroke="#5d5957" stroke-width="1.3"/>
<text transform="translate(1660.4 1211.0) scale(0.67 1)" x="5.7 17.0 28.4" y="0" text-anchor="middle" font-family='"Liberation Serif", "Noto Serif CJK SC", serif' font-size="24.5" fill="#2b2826" stroke="#2b2826" stroke-width="0.4">950</text>
<line x1="1690.71" y1="1177.50" x2="1690.71" y2="1185.00" stroke="#6f6b68" stroke-width="1.2"/>
<line x1="1709.64" y1="1177.50" x2="1709.64" y2="1185.00" stroke="#6f6b68" stroke-width="1.2"/>
<line x1="1728.58" y1="1177.50" x2="1728.58" y2="1185.00" stroke="#6f6b68" stroke-width="1.2"/>
<line x1="1747.51" y1="1177.50" x2="1747.51" y2="1185.00" stroke="#6f6b68" stroke-width="1.2"/>
<line x1="1766.45" y1="1177.50" x2="1766.45" y2="1191.00" stroke="#5d5957" stroke-width="1.3"/>
<text transform="translate(1742.7 1211.0) scale(0.67 1)" x="5.7 17.0 28.4" y="0" text-anchor="middle" font-family='"Liberation Serif", "Noto Serif CJK SC", serif' font-size="24.5" fill="#2b2826" stroke="#2b2826" stroke-width="0.4">m/z</text>
<rect x="759.10" y="1000.00" width="2.60" height="184.00" fill="#f6dac8"/>
<line x1="517.40" y1="804.70" x2="517.40" y2="1184.00" stroke="#d98452" stroke-width="1.25"/>
<line x1="555.20" y1="836.30" x2="555.20" y2="1184.00" stroke="#d98452" stroke-width="1.25"/>
<line x1="759.80" y1="804.70" x2="759.80" y2="1000.00" stroke="#d98452" stroke-width="1.25"/>
<line x1="1159.40" y1="839.60" x2="1159.40" y2="1184.00" stroke="#d98452" stroke-width="1.25"/>
<text transform="translate(386.8 1135.4) scale(0.67 1)" x="5.7 17.0 28.4 37.2 51.0" y="0" text-anchor="middle" font-family='"Liberation Serif", "Noto Serif CJK SC", serif' font-size="24.5" fill="#3d4fa6" stroke="#3d4fa6" stroke-width="0.3">282.2</text>
<text transform="translate(440.0 1107.8) scale(0.67 1)" x="5.7 17.0 28.4 37.2 51.0" y="0" text-anchor="middle" font-family='"Liberation Serif", "Noto Serif CJK SC", serif' font-size="24.5" fill="#3d4fa6" stroke="#3d4fa6" stroke-width="0.3">310.3</text>
<text transform="translate(446.1 1130.7) scale(0.67 1)" x="5.7 17.0 28.4 37.2 51.0" y="0" text-anchor="middle" font-family='"Liberation Serif", "Noto Serif CJK SC", serif' font-size="24.5" fill="#3d4fa6" stroke="#3d4fa6" stroke-width="0.3">313.3</text>
<text transform="translate(444.6 1145.9) scale(0.67 1)" x="5.7 17.0 28.4 37.2 51.0" y="0" text-anchor="middle" font-family='"Liberation Serif", "Noto Serif CJK SC", serif' font-size="24.5" fill="#3d4fa6" stroke="#3d4fa6" stroke-width="0.3">312.2</text>
<text transform="translate(455.0 1146.6) scale(0.67 1)" x="5.7 17.0 28.4 37.2 51.0" y="0" text-anchor="middle" font-family='"Liberation Serif", "Noto Serif CJK SC", serif' font-size="24.5" fill="#3d4fa6" stroke="#3d4fa6" stroke-width="0.3">318.2</text>
<text transform="translate(461.0 1144.6) scale(0.67 1)" x="5.7 17.0 28.4 37.2 51.0" y="0" text-anchor="middle" font-family='"Liberation Serif", "Noto Serif CJK SC", serif' font-size="24.5" fill="#3d4fa6" stroke="#3d4fa6" stroke-width="0.3">321.2</text>
<text transform="translate(479.7 1127.6) scale(0.67 1)" x="5.7 17.0 28.4 37.2 51.0" y="0" text-anchor="middle" font-family='"Liberation Serif", "Noto Serif CJK SC", serif' font-size="24.5" fill="#3d4fa6" stroke="#3d4fa6" stroke-width="0.3">331.2</text>
<text transform="translate(483.0 1156.6) scale(0.67 1)" x="5.7 17.0 28.4 37.2 51.0" y="0" text-anchor="middle" font-family='"Liberation Serif", "Noto Serif CJK SC", serif' font-size="24.5" fill="#3d4fa6" stroke="#3d4fa6" stroke-width="0.3">332.2</text>
<text transform="translate(489.5 1130.6) scale(0.67 1)" x="5.7 17.0 28.4 37.2 51.0" y="0" text-anchor="middle" font-family='"Liberation Serif", "Noto Serif CJK SC", serif' font-size="24.5" fill="#3d4fa6" stroke="#3d4fa6" stroke-width="0.3">336.2</text>
<text transform="translate(496.8 806.5) scale(0.67 1)" x="5.7 17.0 28.4 37.2 51.0" y="0" text-anchor="middle" font-family='"Liberation Serif", "Noto Serif CJK SC", serif' font-size="24.5" fill="#3d4fa6" stroke="#3d4fa6" stroke-width="0.3">340.2</text>
<text transform="translate(519.0 1132.2) scale(0.67 1)" x="5.7 17.0 28.4 37.2 51.0" y="0" text-anchor="middle" font-family='"Liberation Serif", "Noto Serif CJK SC", serif' font-size="24.5" fill="#3d4fa6" stroke="#3d4fa6" stroke-width="0.3">351.3</text>
<text transform="translate(522.6 1071.9) scale(0.67 1)" x="5.7 17.0 28.4 37.2 51.0" y="0" text-anchor="middle" font-family='"Liberation Serif", "Noto Serif CJK SC", serif' font-size="24.5" fill="#3d4fa6" stroke="#3d4fa6" stroke-width="0.3">353.2</text>
<text transform="translate(524.6 1148.5) scale(0.67 1)" x="5.7 17.0 28.4 37.2 51.0" y="0" text-anchor="middle" font-family='"Liberation Serif", "Noto Serif CJK SC", serif' font-size="24.5" fill="#3d4fa6" stroke="#3d4fa6" stroke-width="0.3">354.2</text>
<text transform="translate(534.3 836.2) scale(0.67 1)" x="5.7 17.0 28.4 37.2 51.0" y="0" text-anchor="middle" font-family='"Liberation Serif", "Noto Serif CJK SC", serif' font-size="24.5" fill="#3d4fa6" stroke="#3d4fa6" stroke-width="0.3">360.2</text>
<text transform="translate(536.8 1087.5) scale(0.67 1)" x="5.7 17.0 28.4 37.2 51.0" y="0" text-anchor="middle" font-family='"Liberation Serif", "Noto Serif CJK SC", serif' font-size="24.5" fill="#3d4fa6" stroke="#3d4fa6" stroke-width="0.3">361.2</text>
<text transform="translate(539.8 1150.0) scale(0.67 1)" x="5.7 17.0 28.4 37.2 51.0" y="0" text-anchor="middle" font-family='"Liberation Serif", "Noto Serif CJK SC", serif' font-size="24.5" fill="#3d4fa6" stroke="#3d4fa6" stroke-width="0.3">362.2</text>
<text transform="translate(547.4 1153.6) scale(0.67 1)" x="5.7 17.0 28.4 37.2 51.0" y="0" text-anchor="middle" font-family='"Liberation Serif", "Noto Serif CJK SC", serif' font-size="24.5" fill="#3d4fa6" stroke="#3d4fa6" stroke-width="0.3">366.2</text>
<text transform="translate(574.6 1050.2) scale(0.67 1)" x="5.7 17.0 28.4 37.2 51.0" y="0" text-anchor="middle" font-family='"Liberation Serif", "Noto Serif CJK SC", serif' font-size="24.5" fill="#3d4fa6" stroke="#3d4fa6" stroke-width="0.3">381.2</text>
<text transform="translate(576.7 1142.4) scale(0.67 1)" x="5.7 17.0 28.4 37.2 51.0" y="0" text-anchor="middle" font-family='"Liberation Serif", "Noto Serif CJK SC", serif' font-size="24.5" fill="#3d4fa6" stroke="#3d4fa6" stroke-width="0.3">382.3</text>
<text transform="translate(638.3 997.4) scale(0.67 1)" x="5.7 17.0 28.4 37.2 51.0" y="0" text-anchor="middle" font-family='"Liberation Serif", "Noto Serif CJK SC", serif' font-size="24.5" fill="#3d4fa6" stroke="#3d4fa6" stroke-width="0.3">415.1</text>
<text transform="translate(640.4 1131.2) scale(0.67 1)" x="5.7 17.0 28.4 37.2 51.0" y="0" text-anchor="middle" font-family='"Liberation Serif", "Noto Serif CJK SC", serif' font-size="24.5" fill="#3d4fa6" stroke="#3d4fa6" stroke-width="0.3">416.1</text>
<text transform="translate(670.1 1142.4) scale(0.67 1)" x="5.7 17.0 28.4 37.2 51.0" y="0" text-anchor="middle" font-family='"Liberation Serif", "Noto Serif CJK SC", serif' font-size="24.5" fill="#3d4fa6" stroke="#3d4fa6" stroke-width="0.3">432.1</text>
<text transform="translate(679.8 1106.8) scale(0.67 1)" x="5.7 17.0 28.4 37.2 51.0" y="0" text-anchor="middle" font-family='"Liberation Serif", "Noto Serif CJK SC", serif' font-size="24.5" fill="#3d4fa6" stroke="#3d4fa6" stroke-width="0.3">437.1</text>
<text transform="translate(710.4 1013.9) scale(0.67 1)" x="5.7 17.0 28.4 37.2 51.0" y="0" text-anchor="middle" font-family='"Liberation Serif", "Noto Serif CJK SC", serif' font-size="24.5" fill="#3d4fa6" stroke="#3d4fa6" stroke-width="0.3">453.2</text>
<text transform="translate(739.0 806.5) scale(0.67 1)" x="5.7 17.0 28.4 37.2 51.0" y="0" text-anchor="middle" font-family='"Liberation Serif", "Noto Serif CJK SC", serif' font-size="24.5" fill="#3d4fa6" stroke="#3d4fa6" stroke-width="0.3">468.2</text>
<text transform="translate(741.0 995.1) scale(0.67 1)" x="5.7 17.0 28.4 37.2 51.0" y="0" text-anchor="middle" font-family='"Liberation Serif", "Noto Serif CJK SC", serif' font-size="24.5" fill="#3d4fa6" stroke="#3d4fa6" stroke-width="0.3">469.2</text>
<text transform="translate(742.9 1152.6) scale(0.67 1)" x="5.7 17.0 28.4 37.2 51.0" y="0" text-anchor="middle" font-family='"Liberation Serif", "Noto Serif CJK SC", serif' font-size="24.5" fill="#3d4fa6" stroke="#3d4fa6" stroke-width="0.3">470.2</text>
<text transform="translate(752.4 1152.6) scale(0.67 1)" x="5.7 17.0 28.4 37.2 51.0" y="0" text-anchor="middle" font-family='"Liberation Serif", "Noto Serif CJK SC", serif' font-size="24.5" fill="#3d4fa6" stroke="#3d4fa6" stroke-width="0.3">475.2</text>
<text transform="translate(780.8 912.3) scale(0.67 1)" x="5.7 17.0 28.4 37.2 51.0" y="0" text-anchor="middle" font-family='"Liberation Serif", "Noto Serif CJK SC", serif' font-size="24.5" fill="#3d4fa6" stroke="#3d4fa6" stroke-width="0.3">490.2</text>
<text transform="translate(782.7 1091.6) scale(0.67 1)" x="5.7 17.0 28.4 37.2 51.0" y="0" text-anchor="middle" font-family='"Liberation Serif", "Noto Serif CJK SC", serif' font-size="24.5" fill="#3d4fa6" stroke="#3d4fa6" stroke-width="0.3">491.2</text>
<text transform="translate(784.7 1158.1) scale(0.67 1)" x="5.7 17.0 28.4 37.2 51.0" y="0" text-anchor="middle" font-family='"Liberation Serif", "Noto Serif CJK SC", serif' font-size="24.5" fill="#3d4fa6" stroke="#3d4fa6" stroke-width="0.3">492.2</text>
<text transform="translate(949.1 1140.9) scale(0.67 1)" x="5.7 17.0 28.4 37.2 51.0" y="0" text-anchor="middle" font-family='"Liberation Serif", "Noto Serif CJK SC", serif' font-size="24.5" fill="#3d4fa6" stroke="#3d4fa6" stroke-width="0.3">579.4</text>
<text transform="translate(977.5 1103.3) scale(0.67 1)" x="5.7 17.0 28.4 37.2 51.0" y="0" text-anchor="middle" font-family='"Liberation Serif", "Noto Serif CJK SC", serif' font-size="24.5" fill="#3d4fa6" stroke="#3d4fa6" stroke-width="0.3">594.0</text>
<text transform="translate(979.1 1154.1) scale(0.67 1)" x="5.7 17.0 28.4 37.2 51.0" y="0" text-anchor="middle" font-family='"Liberation Serif", "Noto Serif CJK SC", serif' font-size="24.5" fill="#3d4fa6" stroke="#3d4fa6" stroke-width="0.3">595.0</text>
<text transform="translate(986.9 1135.3) scale(0.67 1)" x="5.7 17.0 28.4 37.2 51.0" y="0" text-anchor="middle" font-family='"Liberation Serif", "Noto Serif CJK SC", serif' font-size="24.5" fill="#3d4fa6" stroke="#3d4fa6" stroke-width="0.3">599.0</text>
<text transform="translate(1002.9 1159.1) scale(0.67 1)" x="5.7 17.0 28.4 37.2 51.0" y="0" text-anchor="middle" font-family='"Liberation Serif", "Noto Serif CJK SC", serif' font-size="24.5" fill="#3d4fa6" stroke="#3d4fa6" stroke-width="0.3">607.4</text>
<text transform="translate(1025.8 1125.6) scale(0.67 1)" x="5.7 17.0 28.4 37.2 51.0" y="0" text-anchor="middle" font-family='"Liberation Serif", "Noto Serif CJK SC", serif' font-size="24.5" fill="#3d4fa6" stroke="#3d4fa6" stroke-width="0.3">619.4</text>
<text transform="translate(1027.8 1156.6) scale(0.67 1)" x="5.7 17.0 28.4 37.2 51.0" y="0" text-anchor="middle" font-family='"Liberation Serif", "Noto Serif CJK SC", serif' font-size="24.5" fill="#3d4fa6" stroke="#3d4fa6" stroke-width="0.3">620.4</text>
<text transform="translate(1078.2 1141.4) scale(0.67 1)" x="5.7 17.0 28.4 37.2 51.0" y="0" text-anchor="middle" font-family='"Liberation Serif", "Noto Serif CJK SC", serif' font-size="24.5" fill="#3d4fa6" stroke="#3d4fa6" stroke-width="0.3">647.4</text>
<text transform="translate(1131.5 1093.1) scale(0.67 1)" x="5.7 17.0 28.4 37.2 51.0" y="0" text-anchor="middle" font-family='"Liberation Serif", "Noto Serif CJK SC", serif' font-size="24.5" fill="#3d4fa6" stroke="#3d4fa6" stroke-width="0.3">675.5</text>
<text transform="translate(1133.5 1137.8) scale(0.67 1)" x="5.7 17.0 28.4 37.2 51.0" y="0" text-anchor="middle" font-family='"Liberation Serif", "Noto Serif CJK SC", serif' font-size="24.5" fill="#3d4fa6" stroke="#3d4fa6" stroke-width="0.3">676.6</text>
<text transform="translate(1138.7 840.2) scale(0.67 1)" x="5.7 17.0 28.4 37.2 51.0" y="0" text-anchor="middle" font-family='"Liberation Serif", "Noto Serif CJK SC", serif' font-size="24.5" fill="#3d4fa6" stroke="#3d4fa6" stroke-width="0.3">679.4</text>
<text transform="translate(1140.5 1047.4) scale(0.67 1)" x="5.7 17.0 28.4 37.2 51.0" y="0" text-anchor="middle" font-family='"Liberation Serif", "Noto Serif CJK SC", serif' font-size="24.5" fill="#3d4fa6" stroke="#3d4fa6" stroke-width="0.3">680.4</text>
<text transform="translate(1142.7 1144.9) scale(0.67 1)" x="5.7 17.0 28.4 37.2 51.0" y="0" text-anchor="middle" font-family='"Liberation Serif", "Noto Serif CJK SC", serif' font-size="24.5" fill="#3d4fa6" stroke="#3d4fa6" stroke-width="0.3">681.4</text>
<text transform="translate(1180.8 1044.6) scale(0.67 1)" x="5.7 17.0 28.4 37.2 51.0" y="0" text-anchor="middle" font-family='"Liberation Serif", "Noto Serif CJK SC", serif' font-size="24.5" fill="#3d4fa6" stroke="#3d4fa6" stroke-width="0.3">701.3</text>
<text transform="translate(1182.5 1115.5) scale(0.67 1)" x="5.7 17.0 28.4 37.2 51.0" y="0" text-anchor="middle" font-family='"Liberation Serif", "Noto Serif CJK SC", serif' font-size="24.5" fill="#3d4fa6" stroke="#3d4fa6" stroke-width="0.3">702.4</text>
<path d="M62.0,1177.1 62.8,1177.0 63.2,1176.8 63.4,1177.0 63.8,1176.9 64.4,1177.2 64.6,1177.1 64.8,1177.4 65.0,1177.3 65.2,1177.7 65.4,1177.5 67.2,1177.7 67.6,1177.3 67.8,1177.5 68.0,1177.4 69.0,1175.6 69.4,1175.3 70.4,1176.5 70.8,1176.3 71.0,1176.5 71.2,1176.2 72.4,1176.4 73.2,1176.8 73.4,1177.5 75.2,1177.5 75.6,1177.2 76.0,1177.3 76.2,1176.9 77.0,1176.6 77.2,1176.8 77.8,1176.8 78.0,1177.1 78.2,1176.8 78.4,1177.1 79.7,1175.7 80.2,1176.0 80.8,1177.0 81.8,1177.2 82.0,1177.4 85.4,1177.5 86.4,1177.0 86.6,1176.5 87.8,1176.1 88.2,1175.2 88.4,1175.1 88.6,1175.2 89.2,1176.0 89.4,1176.0 90.2,1177.4 90.4,1177.3 91.0,1177.5 91.4,1177.2 93.8,1177.6 96.0,1177.5 96.6,1177.1 97.0,1176.1 97.8,1170.9 98.1,1170.0 98.4,1170.9 99.4,1176.7 100.2,1177.5 101.8,1177.5 102.2,1177.3 102.4,1177.4 102.8,1177.4 103.4,1177.3 103.8,1176.9 104.0,1177.0 104.2,1176.8 104.8,1176.7 105.4,1177.5 106.4,1177.3 106.6,1177.5 107.8,1177.1 108.0,1177.3 108.2,1176.9 108.4,1177.2 109.6,1176.1 110.4,1176.4 110.8,1177.1 111.2,1177.3 111.4,1177.8 112.0,1177.7 112.6,1177.4 112.8,1177.5 113.2,1177.0 113.8,1177.1 114.0,1176.7 114.4,1177.1 115.4,1177.0 115.6,1176.8 116.0,1177.3 116.2,1177.1 117.0,1177.2 117.2,1177.5 118.0,1177.5 118.6,1177.1 119.6,1176.0 120.2,1177.1 120.6,1177.4 121.8,1177.4 122.2,1177.1 123.0,1177.5 124.0,1177.5 124.2,1177.2 124.4,1177.3 124.6,1177.1 125.2,1177.0 125.4,1176.8 125.6,1176.9 125.8,1176.8 127.0,1172.9 127.4,1173.9 128.0,1176.4 128.4,1177.1 129.2,1175.9 130.2,1177.4 130.8,1177.2 131.4,1177.4 131.6,1177.3 132.0,1177.5 134.2,1177.5 135.0,1177.1 135.2,1176.7 136.0,1176.5 136.8,1177.1 137.0,1176.9 137.4,1177.2 137.6,1176.9 138.0,1176.6 138.2,1176.8 138.4,1176.5 139.0,1177.7 139.6,1177.8 139.8,1177.6 141.0,1177.5 141.2,1177.2 141.4,1177.4 142.0,1176.6 143.2,1177.1 144.0,1176.8 144.2,1176.9 144.8,1176.4 145.0,1176.5 145.4,1176.5 146.0,1177.1 147.0,1177.5 148.4,1176.8 148.6,1176.8 149.0,1177.3 149.6,1177.5 150.8,1176.8 151.7,1174.4 152.2,1175.5 152.6,1175.5 153.0,1176.4 153.4,1176.9 153.6,1176.9 154.0,1175.6 154.8,1170.8 155.2,1169.6 155.6,1170.8 156.6,1176.3 157.0,1177.2 157.8,1177.5 158.2,1177.5 158.6,1177.2 158.8,1177.4 159.6,1176.4 160.6,1177.4 162.2,1177.4 162.4,1177.2 162.6,1177.4 163.2,1176.9 163.6,1176.9 164.0,1176.7 166.0,1177.4 166.8,1176.8 167.0,1176.4 167.6,1176.2 168.0,1176.9 168.8,1177.6 169.6,1177.1 170.0,1177.2 170.6,1177.0 171.0,1177.4 171.2,1177.0 171.6,1177.3 171.8,1177.1 172.0,1177.3 172.4,1177.2 172.6,1177.6 172.8,1177.2 173.2,1177.6 173.8,1177.1 174.4,1177.0 174.8,1177.2 175.8,1177.2 176.0,1177.4 176.2,1177.3 176.4,1177.5 176.6,1177.3 176.8,1177.5 177.0,1177.4 177.2,1177.5 179.2,1177.6 179.6,1177.4 180.0,1176.7 180.6,1176.9 180.8,1177.2 181.4,1176.8 182.2,1177.1 182.6,1176.9 182.8,1177.1 183.2,1176.8 183.6,1177.0 185.0,1176.1 185.6,1176.0 186.4,1176.3 187.4,1177.0 189.0,1177.5 190.2,1177.5 190.6,1177.2 191.0,1177.3 191.2,1177.0 192.0,1177.1 192.8,1176.9 193.4,1177.4 193.8,1177.3 194.2,1177.5 196.8,1177.5 197.2,1177.0 197.8,1177.3 198.0,1177.1 198.2,1177.3 198.6,1177.2 199.6,1177.3 199.8,1177.5 200.0,1177.3 201.2,1177.4 202.0,1177.1 202.4,1177.2 202.6,1177.0 203.2,1177.5 203.4,1176.9 203.6,1176.8 203.8,1177.2 205.5,1175.1 206.6,1177.3 207.8,1175.0 208.8,1177.1 209.0,1177.2 209.2,1176.9 210.0,1177.2 210.2,1177.0 211.4,1177.5 212.2,1177.5 212.6,1177.3 212.8,1177.5 213.4,1176.8 213.8,1176.7 214.8,1177.4 216.6,1177.4 217.0,1177.0 217.2,1176.4 218.0,1175.9 218.2,1176.3 218.8,1176.5 219.8,1176.2 220.0,1176.6 220.6,1176.7 222.8,1177.8 224.0,1177.6 225.2,1177.6 225.4,1177.3 226.0,1177.5 226.6,1177.1 227.0,1177.3 227.6,1176.7 228.2,1175.2 228.4,1175.3 229.4,1177.3 229.6,1177.3 230.0,1176.8 230.2,1177.0 231.0,1176.4 231.4,1176.3 231.8,1176.9 232.0,1176.8 232.6,1177.5 232.8,1177.5 233.2,1177.7 233.8,1177.8 234.4,1177.4 234.8,1177.6 235.0,1177.4 235.2,1177.7 235.6,1177.4 235.8,1177.6 236.6,1177.1 237.4,1176.9 237.6,1177.1 238.2,1176.1 238.8,1176.4 239.8,1177.5 240.6,1177.3 240.8,1177.6 242.2,1177.2 242.8,1176.2 243.2,1176.3 243.4,1176.8 244.2,1176.2 245.2,1177.1 245.6,1176.9 245.8,1177.0 246.4,1175.7 247.6,1177.0 248.2,1176.9 249.0,1173.6 249.2,1173.5 249.6,1175.5 250.2,1177.2 251.0,1177.8 251.4,1177.7 251.8,1177.9 252.0,1177.6 252.4,1177.7 253.2,1176.5 253.4,1176.4 253.8,1177.0 254.2,1177.2 254.6,1176.9 255.2,1176.9 255.6,1177.2 255.8,1176.9 256.2,1177.4 256.8,1177.5 257.2,1177.3 258.0,1177.2 258.2,1176.9 258.4,1177.2 258.8,1177.1 259.4,1176.7 259.8,1177.1 260.0,1176.6 260.4,1176.6 261.2,1177.2 261.4,1177.0 262.0,1177.5 262.2,1177.3 262.6,1177.7 263.4,1177.4 264.4,1176.5 264.6,1176.7 265.2,1176.7 265.4,1177.1 265.6,1176.8 265.8,1177.0 266.2,1176.7 266.4,1176.8 267.4,1174.3 267.8,1174.1 269.0,1176.9 269.4,1177.0 269.6,1177.4 271.0,1177.4 271.8,1177.6 272.6,1176.8 273.2,1175.4 273.6,1175.2 274.8,1176.2 275.0,1176.6 276.0,1176.9 276.2,1177.1 276.8,1177.1 277.0,1176.8 277.4,1177.4 277.6,1177.4 277.8,1177.2 278.0,1177.3 278.2,1177.2 278.6,1177.7 279.0,1177.5 279.2,1177.7 279.6,1177.5 279.8,1177.6 280.8,1177.0 281.8,1177.1 282.2,1176.9 283.8,1177.6 284.4,1177.0 285.4,1174.4 285.8,1174.2 287.0,1176.7 289.4,1177.9 289.6,1177.6 290.0,1177.8 290.4,1177.8 291.2,1177.1 292.6,1176.7 292.8,1177.0 293.2,1177.0 293.4,1177.2 294.8,1176.9 295.4,1176.6 295.6,1176.7 296.6,1176.8 297.2,1177.1 297.4,1176.9 297.8,1177.2 298.0,1177.1 298.2,1177.4 298.6,1177.3 299.2,1177.5 301.4,1177.5 302.6,1177.4 302.8,1177.1 303.0,1177.3 303.4,1176.9 303.6,1177.2 304.4,1176.6 305.4,1172.1 305.6,1171.8 306.8,1176.7 307.2,1177.4 307.6,1177.5 308.6,1177.5 309.0,1177.3 309.4,1177.4 309.6,1177.1 310.4,1176.9 311.4,1177.5 312.0,1177.1 312.4,1176.4 312.8,1176.0 313.2,1176.1 313.8,1176.9 314.2,1177.0 314.4,1176.8 314.8,1177.1 316.8,1176.4 317.8,1177.5 319.2,1177.5 319.4,1177.3 319.8,1177.4 320.2,1177.1 320.6,1177.2 321.2,1176.4 321.6,1176.2 322.2,1173.7 322.6,1172.9 323.0,1173.9 323.6,1176.3 324.2,1177.4 324.6,1177.1 325.0,1177.3 325.8,1177.1 326.2,1176.7 326.4,1176.9 326.6,1176.4 327.0,1176.5 327.8,1177.5 328.2,1177.6 329.8,1177.5 330.6,1177.1 330.8,1177.2 331.2,1176.9 331.4,1177.1 331.6,1176.9 332.0,1176.9 332.6,1177.2 333.4,1177.1 333.6,1177.4 334.2,1176.9 334.4,1177.1 334.6,1176.8 335.0,1176.6 335.2,1176.9 335.4,1176.6 335.6,1176.7 336.0,1176.6 336.4,1176.8 336.8,1176.7 337.2,1177.2 337.4,1176.8 337.6,1177.3 337.8,1177.2 338.4,1177.5 339.2,1177.5 339.8,1177.7 340.2,1177.6 340.4,1177.7 340.6,1177.4 341.2,1177.2 341.4,1177.0 342.0,1176.8 342.2,1177.1 342.4,1176.9 342.8,1176.9 343.0,1176.7 343.2,1176.8 343.4,1176.6 343.8,1176.7 344.0,1176.5 344.6,1176.9 345.2,1177.7 345.6,1177.6 345.8,1177.9 346.8,1177.4 347.4,1177.5 347.6,1177.3 348.0,1177.4 348.4,1177.0 348.8,1177.2 349.0,1177.0 349.2,1177.1 350.2,1177.1 351.0,1176.7 352.6,1177.4 353.0,1177.0 354.6,1177.5 356.8,1177.5 357.4,1176.7 358.2,1173.5 358.5,1173.0 358.8,1173.5 359.8,1177.0 360.2,1177.0 360.6,1177.3 360.8,1177.1 361.4,1177.4 361.6,1177.3 361.8,1177.5 363.0,1177.5 363.2,1177.3 363.6,1177.5 365.2,1177.4 365.6,1177.2 365.8,1177.4 366.2,1177.0 367.0,1177.0 367.6,1177.5 368.8,1177.1 369.4,1176.3 370.0,1176.4 370.2,1176.6 371.0,1176.7 371.2,1177.0 371.6,1176.9 372.0,1177.4 372.6,1177.4 373.0,1177.8 373.4,1177.9 373.6,1177.6 374.0,1177.8 375.0,1177.6 375.2,1177.4 375.6,1177.5 375.8,1177.2 376.0,1177.5 376.4,1177.1 377.0,1177.4 377.6,1177.4 377.8,1177.6 378.0,1177.4 379.0,1177.6 380.0,1177.1 380.4,1177.4 380.6,1177.1 381.4,1176.8 381.6,1177.0 382.4,1177.1 382.8,1177.4 386.0,1177.5 386.2,1177.3 386.6,1177.3 387.4,1176.9 388.6,1177.3 389.6,1176.8 389.8,1176.4 390.0,1176.3 390.2,1176.5 390.6,1176.1 392.0,1161.9 392.3,1160.2 392.6,1160.3 392.8,1161.8 393.8,1172.9 394.2,1172.3 394.4,1172.6 395.4,1176.7 395.8,1175.6 396.6,1177.5 396.8,1177.0 397.0,1177.4 397.2,1177.3 397.6,1176.9 398.8,1176.4 399.6,1177.3 399.8,1177.2 400.4,1177.5 402.2,1177.5 402.4,1177.4 403.0,1177.5 403.8,1177.3 404.2,1177.4 404.8,1177.2 405.6,1176.6 405.8,1176.3 406.0,1175.1 407.5,1135.1 409.0,1175.0 409.2,1176.2 409.6,1176.2 409.8,1175.9 411.2,1160.7 411.4,1160.3 411.6,1160.3 411.8,1160.7 412.8,1172.2 413.0,1172.6 413.4,1172.3 413.6,1172.6 414.2,1175.4 414.4,1175.8 414.8,1175.5 415.2,1176.5 415.8,1177.2 416.0,1177.0 416.6,1177.2 417.2,1177.2 417.4,1177.4 417.6,1177.1 417.8,1177.4 418.8,1177.5 419.8,1177.2 420.2,1177.2 420.4,1177.4 421.2,1177.3 421.4,1177.5 422.2,1177.5 422.8,1177.2 424.8,1175.1 425.8,1175.8 426.8,1177.1 427.8,1177.1 428.0,1176.9 428.8,1177.5 430.4,1177.4 431.4,1175.6 431.6,1175.6 432.0,1176.1 432.2,1176.1 432.6,1176.7 432.8,1176.6 433.9,1174.0 434.2,1174.0 434.6,1174.8 435.4,1170.6 435.8,1171.8 436.4,1175.8 437.2,1177.1 437.6,1177.0 438.0,1177.4 438.6,1177.5 440.8,1177.5 441.2,1177.3 441.8,1177.4 442.0,1177.2 442.2,1177.4 443.8,1176.7 444.0,1176.9 444.2,1176.7 444.4,1177.0 444.6,1177.0 445.8,1175.6 446.0,1175.6 447.2,1176.7 447.8,1176.2 448.4,1174.0 448.8,1173.3 450.0,1176.9 450.4,1177.4 451.2,1177.5 451.6,1177.2 452.6,1174.0 453.6,1173.8 453.8,1174.1 454.0,1174.1 454.6,1172.2 455.6,1176.8 456.6,1173.5 457.4,1176.4 457.8,1177.0 458.6,1175.6 458.8,1174.2 460.3,1106.8 461.6,1166.5 461.8,1174.5 462.0,1176.2 462.4,1176.6 463.2,1175.6 463.4,1175.0 464.8,1141.8 465.0,1141.8 465.8,1161.7 466.0,1161.1 466.8,1144.3 467.0,1144.1 468.2,1170.5 468.6,1168.0 468.8,1167.2 469.0,1167.1 469.4,1169.0 470.2,1175.5 470.4,1176.3 470.8,1177.0 471.8,1177.3 472.8,1177.3 473.4,1176.8 474.0,1175.6 475.5,1146.4 475.7,1146.6 475.8,1148.1 476.8,1169.8 477.0,1170.5 477.3,1169.4 477.4,1169.3 477.6,1169.8 478.4,1175.5 478.8,1177.0 479.0,1177.1 479.2,1177.0 480.0,1176.0 481.5,1144.9 481.7,1144.9 481.8,1146.6 482.8,1169.4 483.0,1170.7 483.3,1170.3 483.6,1171.2 484.6,1176.8 485.2,1177.4 485.6,1177.2 486.0,1176.4 486.2,1176.5 486.4,1176.1 486.6,1176.3 487.2,1176.2 488.0,1175.5 488.6,1176.3 488.8,1177.0 489.2,1177.1 489.8,1176.7 490.0,1176.8 490.4,1176.0 490.8,1175.9 491.2,1175.3 492.0,1175.5 493.6,1173.3 494.2,1173.5 494.6,1173.9 495.2,1175.5 495.6,1176.1 495.8,1176.1 496.6,1175.2 497.0,1175.4 497.6,1176.8 498.0,1177.0 498.4,1176.6 498.8,1176.0 499.0,1172.1 500.4,1127.2 501.6,1165.9 502.2,1158.7 502.4,1157.4 502.6,1157.4 504.0,1175.1 504.2,1175.0 504.8,1175.7 505.8,1166.1 506.0,1165.5 506.4,1167.9 507.0,1174.5 507.4,1176.6 507.6,1176.7 507.8,1176.4 508.4,1176.2 508.6,1174.9 510.0,1130.2 510.1,1129.7 510.2,1130.2 511.6,1177.0 512.2,1156.1 512.5,861.5 513.2,847.5 514.5,834.5 515.5,813.3 516.6,821.5 517.3,837.5 517.6,892.5 519.0,959.5 519.5,1129.5 521.4,1167.1 523.2,1177.3 523.8,1177.4 524.4,1176.8 525.2,1174.5 526.2,1174.1 526.8,1172.5 527.8,1176.3 528.4,1177.4 528.8,1177.0 529.0,1177.0 529.6,1174.6 530.2,1173.2 530.4,1173.2 530.8,1173.8 531.6,1175.7 532.0,1175.9 532.4,1175.6 533.0,1174.3 533.4,1174.3 533.8,1174.0 534.4,1172.4 534.8,1173.5 535.4,1176.7 535.6,1177.0 536.4,1176.1 538.0,1131.0 539.4,1172.4 539.6,1176.0 540.0,1176.4 540.2,1176.2 540.4,1173.6 540.6,1161.9 541.9,1071.5 543.2,1160.1 543.6,1157.3 544.0,1157.3 545.4,1174.8 546.0,1176.0 546.4,1176.4 547.2,1174.9 547.6,1174.5 548.2,1175.8 548.8,1174.4 549.6,1170.8 551.2,1161.3 551.9,1159.2 552.2,1159.1 552.4,1159.4 552.8,1160.6 553.8,1166.8 554.2,1123.2 555.7,854.2 557.0,1091.2 557.2,1095.6 557.5,1085.8 558.6,1152.8 558.8,1156.3 559.4,1149.3 559.6,1149.4 561.4,1176.2 562.2,1176.9 562.6,1176.2 563.0,1174.5 563.2,1174.4 564.2,1177.0 565.0,1176.3 565.2,1175.5 566.4,1155.0 566.7,1152.5 567.0,1155.0 568.2,1175.5 568.4,1176.3 568.6,1176.3 568.8,1175.5 569.6,1170.5 570.0,1169.2 570.4,1170.3 571.0,1174.2 572.2,1177.3 572.8,1177.1 573.4,1176.0 574.4,1171.3 575.0,1169.8 575.4,1170.4 576.6,1175.9 577.2,1177.1 578.2,1177.5 580.2,1177.5 581.0,1176.3 581.4,1176.1 581.8,1176.7 582.4,1177.0 583.2,1177.2 583.4,1177.0 583.6,1177.0 584.0,1177.3 584.4,1176.5 584.6,1175.4 585.8,1162.0 586.2,1164.8 586.8,1173.3 587.0,1175.0 587.4,1176.2 587.6,1176.5 587.8,1176.4 588.6,1175.6 589.2,1177.2 589.6,1177.5 590.2,1177.5 591.0,1177.2 591.2,1176.7 591.8,1176.8 592.0,1176.7 592.2,1176.9 592.6,1176.1 593.0,1176.4 593.2,1176.2 593.4,1173.2 593.6,1159.2 594.9,1049.9 596.2,1153.5 596.8,1140.5 597.0,1140.3 598.2,1170.8 598.6,1176.2 599.4,1177.1 600.2,1177.4 600.8,1177.2 601.0,1177.3 601.2,1177.1 601.4,1177.3 601.8,1177.0 602.4,1175.8 602.8,1175.9 603.4,1176.8 603.8,1176.5 604.0,1176.8 604.2,1176.6 604.4,1176.7 604.6,1176.4 604.8,1176.6 605.2,1176.1 606.0,1177.5 607.0,1177.4 607.6,1176.5 608.6,1170.3 608.8,1169.9 609.2,1171.4 609.8,1175.6 610.4,1177.3 611.2,1177.3 611.4,1177.5 612.2,1176.8 612.6,1176.0 612.8,1176.2 613.0,1176.0 613.4,1176.6 614.2,1176.2 615.4,1171.8 615.8,1172.5 616.4,1175.4 616.8,1175.5 617.4,1174.9 618.6,1177.4 619.2,1177.5 620.0,1177.3 620.4,1177.0 620.8,1177.2 622.0,1176.9 622.4,1176.5 622.8,1175.5 623.2,1175.5 623.6,1176.5 624.0,1177.0 624.4,1175.8 625.0,1172.2 625.4,1170.8 625.6,1171.1 626.4,1175.3 626.6,1174.7 627.0,1174.6 628.0,1176.9 628.2,1176.8 629.0,1177.5 629.6,1177.5 630.8,1175.7 631.0,1175.5 631.6,1175.9 632.2,1175.7 632.6,1175.1 632.8,1175.2 633.0,1174.6 633.2,1174.6 634.0,1175.7 634.2,1176.4 635.2,1177.5 635.6,1177.5 635.8,1177.4 636.4,1176.3 636.8,1176.0 637.0,1176.2 637.4,1176.3 637.6,1176.2 638.0,1175.2 638.4,1174.8 639.0,1175.3 639.6,1176.7 639.8,1176.5 640.0,1176.6 640.4,1176.3 641.4,1172.3 641.8,1172.4 642.0,1172.8 642.8,1175.5 643.4,1175.5 644.4,1173.1 644.6,1172.8 645.0,1173.4 645.2,1173.0 645.9,1169.2 646.2,1169.9 646.6,1172.8 646.8,1173.0 647.2,1174.6 647.6,1175.5 648.6,1176.4 648.8,1176.8 650.0,1176.3 650.4,1176.8 651.4,1177.3 651.6,1177.0 651.8,1177.2 652.8,1176.8 653.6,1176.9 654.6,1175.9 655.0,1176.0 655.6,1177.3 656.0,1177.4 657.0,1177.0 657.8,1176.2 659.4,998.4 660.6,1139.2 661.0,1130.9 661.1,1130.5 661.2,1130.8 662.6,1172.7 662.9,1171.4 663.1,1171.5 663.8,1175.7 664.2,1177.1 665.0,1177.4 665.6,1176.9 667.0,1171.5 668.0,1175.3 668.6,1176.0 669.2,1176.3 670.0,1174.7 670.6,1174.1 671.2,1175.1 671.4,1175.9 671.6,1176.2 671.8,1176.0 672.6,1172.2 673.6,1176.7 674.0,1177.4 674.6,1177.1 674.8,1176.5 675.0,1176.5 675.2,1176.3 675.6,1176.6 676.0,1176.5 676.4,1176.0 677.0,1174.3 677.8,1175.3 678.2,1175.2 679.0,1176.7 679.2,1176.9 679.4,1176.8 679.6,1177.2 679.8,1177.2 680.2,1176.7 680.6,1176.8 680.8,1176.5 681.2,1176.6 682.0,1176.5 682.6,1177.2 682.8,1176.9 683.2,1177.4 683.6,1177.0 683.8,1177.0 684.4,1176.3 684.8,1176.5 685.8,1172.3 686.8,1176.7 687.2,1176.8 687.8,1176.6 688.8,1174.2 689.6,1176.1 689.8,1176.3 690.0,1176.1 691.3,1141.4 691.5,1141.4 692.6,1171.7 692.8,1173.5 693.5,1167.4 694.4,1175.5 694.8,1177.1 695.4,1177.5 696.6,1176.9 697.2,1176.3 697.6,1176.7 698.4,1177.0 699.2,1176.0 700.6,1105.8 701.8,1167.9 702.0,1167.4 702.6,1160.4 703.0,1160.3 704.4,1176.1 705.0,1176.9 706.0,1177.4 706.6,1176.8 706.8,1177.1 707.4,1176.7 707.6,1177.1 707.8,1177.0 708.4,1177.1 708.8,1176.9 709.0,1177.1 709.2,1177.0 709.8,1176.4 710.4,1176.4 711.8,1177.5 713.4,1177.5 714.6,1175.6 715.4,1171.3 715.8,1170.3 716.2,1171.4 717.0,1175.8 717.4,1177.0 717.8,1177.4 719.2,1177.4 720.0,1176.4 720.4,1175.6 721.6,1177.2 721.8,1177.1 722.8,1174.8 723.0,1174.8 723.4,1175.4 723.6,1175.2 723.8,1175.3 724.0,1175.0 725.0,1176.3 725.4,1176.2 725.6,1175.9 726.0,1175.9 726.4,1175.4 726.6,1175.5 726.8,1175.4 727.5,1172.3 728.4,1176.5 729.0,1176.3 729.2,1174.8 729.6,1154.1 731.8,1014.5 734.0,1154.0 734.4,1174.7 734.6,1176.2 735.2,1176.5 735.6,1176.3 736.8,1176.9 737.0,1176.7 737.8,1176.7 738.4,1177.0 738.8,1177.5 740.0,1177.5 740.6,1175.8 740.8,1175.9 741.4,1177.0 742.2,1176.4 742.8,1176.6 743.0,1176.8 744.4,1176.4 744.6,1176.4 744.8,1176.8 745.0,1176.6 745.4,1177.1 745.6,1176.9 746.2,1177.3 747.6,1176.6 748.8,1171.3 750.0,1176.6 750.2,1177.1 750.4,1177.1 750.8,1176.3 751.2,1174.3 752.2,1164.4 752.6,1162.5 753.0,1164.1 753.8,1172.4 754.4,1176.1 755.2,1175.7 755.4,1175.9 755.6,1175.7 756.2,1175.6 756.8,1176.4 757.2,1176.7 757.4,1176.6 758.0,1176.2 758.2,1161.9 760.4,805.4 761.4,976.6 761.6,980.9 761.7,973.3 763.0,1152.1 763.2,1160.9 763.8,1151.4 764.0,1151.4 765.4,1174.8 765.6,1174.3 765.8,1174.3 766.6,1176.5 767.2,1177.3 767.6,1177.2 767.8,1177.4 768.2,1177.3 768.8,1176.8 769.4,1175.4 770.0,1176.6 770.4,1177.1 770.6,1177.0 771.4,1176.3 771.6,1175.4 772.8,1154.6 773.0,1152.0 773.2,1151.9 774.6,1173.8 775.2,1170.1 775.8,1173.5 776.2,1173.5 777.0,1176.5 777.6,1177.5 778.4,1177.3 778.6,1177.5 778.8,1177.3 779.0,1177.5 779.4,1177.5 780.0,1176.8 780.2,1176.2 781.0,1176.5 782.0,1176.0 783.2,1177.1 783.4,1176.9 783.6,1177.3 784.6,1177.0 785.6,1177.3 786.0,1176.7 786.6,1177.3 787.0,1177.3 787.2,1177.0 787.6,1176.9 788.0,1176.4 788.2,1176.5 789.4,1174.0 789.8,1174.0 790.8,1174.8 791.0,1174.8 791.6,1175.2 791.8,1175.5 792.0,1175.4 792.2,1175.7 792.6,1175.5 792.8,1175.8 793.8,1176.0 794.2,1175.8 794.8,1173.9 795.4,1172.9 795.8,1173.2 796.2,1175.0 797.0,1176.5 797.2,1176.2 797.8,1176.3 798.4,1177.0 799.4,1176.1 799.8,1136.8 801.2,910.7 802.6,1124.4 803.3,1090.3 804.6,1158.5 804.8,1157.2 804.9,1157.5 805.2,1157.5 806.6,1176.1 807.4,1177.0 808.2,1177.1 808.8,1176.5 809.4,1174.5 809.8,1175.0 810.4,1176.6 810.6,1176.5 810.8,1177.0 811.2,1177.2 811.6,1177.3 811.8,1177.1 812.0,1177.3 812.6,1177.3 813.0,1177.0 813.4,1176.9 813.6,1177.2 814.0,1177.2 814.8,1176.9 815.2,1177.2 815.6,1177.1 815.8,1177.5 816.0,1177.3 816.2,1177.5 816.4,1177.4 817.6,1177.7 818.6,1177.2 819.2,1177.2 820.4,1173.6 820.8,1174.0 821.0,1174.8 821.4,1175.3 822.0,1175.6 822.2,1175.4 823.4,1177.5 824.4,1177.5 825.0,1177.1 825.2,1177.3 825.4,1177.3 826.0,1176.8 826.4,1177.0 827.0,1176.9 827.2,1176.6 827.4,1176.7 827.6,1176.5 828.0,1176.6 829.0,1174.5 829.6,1176.4 830.0,1176.7 830.4,1176.3 831.0,1174.0 831.4,1173.1 832.6,1176.5 833.0,1176.8 833.6,1176.9 833.8,1177.1 834.0,1176.8 834.4,1177.5 835.0,1177.3 835.2,1177.5 835.6,1177.3 836.0,1176.8 836.8,1175.0 837.8,1176.4 838.4,1175.9 839.2,1174.8 840.0,1175.6 840.2,1176.3 840.6,1176.4 840.8,1176.6 841.4,1176.3 842.2,1174.7 842.6,1175.4 842.8,1175.2 843.4,1172.6 843.6,1172.3 844.0,1173.3 844.8,1176.8 845.4,1177.3 845.8,1177.0 846.2,1176.1 846.8,1173.8 847.2,1173.0 847.6,1173.3 848.0,1174.3 848.2,1174.2 848.8,1168.0 849.2,1165.6 849.4,1166.3 850.4,1175.7 851.0,1174.9 851.4,1173.4 851.6,1173.4 852.2,1176.1 852.8,1177.4 853.0,1177.2 853.2,1177.5 854.0,1177.1 855.4,1174.0 855.8,1173.8 856.4,1174.3 857.8,1176.2 858.2,1176.3 858.4,1175.9 858.8,1175.8 859.2,1174.9 859.6,1174.9 860.2,1177.0 860.6,1177.3 860.8,1177.2 861.4,1177.8 861.6,1177.5 861.8,1177.6 862.2,1177.2 862.8,1174.8 863.2,1174.3 863.8,1174.5 864.4,1175.5 865.4,1176.4 866.8,1173.9 868.2,1177.0 868.6,1177.4 869.2,1176.9 869.4,1176.4 869.6,1176.4 870.0,1175.4 870.6,1174.9 871.0,1175.0 872.0,1173.0 872.8,1174.9 873.4,1175.9 873.8,1176.0 874.6,1174.7 875.0,1175.0 875.2,1175.0 875.4,1174.8 875.6,1175.0 876.0,1173.9 876.4,1174.0 877.0,1175.9 877.4,1176.7 877.6,1176.5 878.4,1173.0 878.7,1172.5 880.0,1176.9 880.4,1175.7 880.6,1175.6 881.6,1177.4 882.0,1177.2 882.2,1177.5 882.8,1177.3 884.6,1177.5 886.4,1175.6 887.4,1169.3 887.8,1168.1 888.2,1169.6 889.2,1176.1 889.6,1174.7 890.6,1168.3 890.9,1167.7 891.4,1169.4 892.2,1174.8 892.8,1176.6 893.0,1176.3 893.4,1176.4 893.8,1176.0 894.6,1174.5 895.0,1175.1 895.6,1176.9 896.2,1177.5 896.4,1177.4 897.2,1177.5 897.4,1177.3 897.8,1177.2 898.6,1175.3 899.0,1175.3 899.4,1176.1 900.2,1174.7 901.2,1177.0 901.4,1177.3 902.0,1177.5 902.4,1177.4 903.0,1176.8 903.2,1176.8 903.4,1176.1 903.6,1176.0 904.2,1174.6 904.8,1174.1 906.8,1177.2 907.2,1177.3 908.2,1177.1 908.4,1177.4 908.6,1177.2 908.8,1177.3 909.0,1177.2 909.6,1176.6 909.8,1176.0 910.6,1176.4 911.4,1173.1 911.7,1172.5 913.0,1176.8 913.2,1176.9 913.6,1176.5 914.2,1175.2 914.8,1176.2 915.8,1173.8 917.4,1166.9 917.8,1165.8 918.2,1165.3 918.6,1165.5 919.0,1166.4 920.6,1172.8 921.2,1174.6 921.6,1173.6 921.8,1173.5 922.2,1174.0 922.8,1175.7 923.0,1175.9 923.2,1175.8 923.4,1176.3 923.8,1175.8 924.0,1176.1 924.8,1176.0 925.0,1176.2 925.6,1175.6 925.8,1176.1 926.0,1175.9 926.8,1176.9 927.6,1177.5 928.6,1177.5 929.2,1177.0 929.8,1177.5 930.2,1177.5 931.2,1177.0 931.4,1177.0 932.5,1173.2 933.6,1176.9 934.0,1176.8 935.0,1173.8 935.4,1173.7 936.0,1174.1 936.2,1174.5 936.6,1174.8 938.0,1176.5 938.2,1176.6 938.8,1176.2 939.6,1174.6 940.2,1174.1 941.0,1175.4 941.2,1176.1 941.8,1176.8 942.6,1177.2 943.0,1176.9 943.2,1177.1 943.4,1177.0 944.0,1175.6 945.2,1168.3 945.7,1166.9 946.2,1168.3 947.2,1174.8 947.8,1176.7 948.2,1176.5 949.0,1177.1 949.4,1177.0 951.4,1173.8 952.2,1174.8 953.0,1176.6 953.6,1176.8 953.8,1177.1 954.8,1175.6 955.0,1175.6 956.0,1172.4 956.4,1173.2 957.0,1176.2 957.4,1177.2 958.0,1177.4 958.6,1177.1 959.2,1175.6 959.6,1175.0 960.0,1175.0 960.4,1174.3 961.0,1174.8 962.0,1177.1 962.6,1177.5 963.4,1177.4 963.8,1177.1 964.2,1176.1 965.2,1170.1 965.5,1169.4 965.8,1170.0 966.8,1176.1 967.4,1177.3 968.0,1177.0 968.6,1176.2 968.8,1173.9 970.0,1139.6 970.2,1139.7 971.2,1167.5 971.8,1161.1 972.0,1160.4 972.2,1160.4 972.4,1161.2 973.6,1175.6 973.8,1176.3 975.0,1177.2 975.6,1177.3 976.6,1176.4 977.6,1177.0 977.8,1176.9 978.0,1177.2 978.2,1177.1 978.6,1177.5 979.0,1177.2 979.2,1177.4 979.8,1175.9 980.4,1173.5 981.0,1173.3 982.0,1176.4 982.8,1177.4 983.0,1177.2 983.2,1177.5 984.0,1177.5 985.2,1176.8 986.6,1174.3 987.2,1173.9 987.8,1174.9 988.6,1173.8 989.4,1176.9 990.0,1177.2 990.6,1176.8 991.2,1176.0 992.6,1159.9 992.8,1159.4 993.0,1159.4 993.2,1160.0 994.6,1176.0 995.2,1176.8 995.6,1176.9 996.2,1176.2 996.4,1172.2 997.7,1102.2 998.8,1162.0 999.4,1153.5 999.5,1152.9 999.7,1153.0 1001.0,1173.4 1001.4,1171.5 1001.6,1171.5 1002.4,1176.3 1002.6,1176.9 1003.0,1177.4 1004.8,1177.2 1005.8,1176.0 1007.2,1134.0 1008.4,1171.0 1009.0,1166.0 1009.2,1165.4 1009.3,1165.6 1010.2,1174.4 1010.8,1177.1 1011.2,1177.1 1011.6,1176.8 1011.8,1176.3 1012.2,1176.5 1012.4,1176.1 1013.2,1176.6 1013.6,1177.1 1014.4,1177.4 1015.4,1176.4 1015.6,1176.5 1016.4,1175.4 1016.8,1175.6 1017.0,1176.4 1017.6,1177.2 1018.0,1177.3 1018.6,1176.9 1019.0,1176.7 1019.2,1176.9 1019.4,1176.6 1020.2,1176.6 1020.8,1177.0 1021.6,1176.1 1023.0,1157.5 1023.4,1157.5 1024.4,1171.8 1024.8,1169.7 1025.0,1169.3 1025.1,1169.4 1025.8,1173.7 1026.2,1172.8 1026.8,1172.7 1027.0,1172.8 1027.4,1174.0 1028.2,1167.7 1028.5,1166.8 1028.8,1167.7 1029.8,1175.6 1030.0,1175.5 1030.6,1173.2 1031.0,1172.5 1031.4,1173.2 1032.4,1176.7 1032.8,1176.8 1033.0,1176.5 1033.4,1176.5 1034.2,1177.0 1034.6,1177.0 1034.8,1177.2 1035.6,1175.7 1035.8,1175.7 1036.2,1176.0 1036.4,1175.9 1037.2,1172.1 1037.5,1171.1 1037.7,1171.0 1039.6,1176.5 1040.0,1176.5 1040.2,1176.2 1040.4,1176.4 1040.8,1175.9 1041.2,1175.7 1043.0,1176.8 1043.2,1176.6 1044.0,1176.9 1044.4,1176.4 1044.6,1176.1 1044.8,1173.2 1046.1,1124.5 1047.2,1165.1 1047.8,1156.9 1048.0,1155.0 1048.2,1155.0 1049.2,1169.7 1049.4,1170.7 1049.8,1167.9 1050.0,1167.4 1050.1,1167.5 1051.0,1175.0 1051.4,1176.8 1052.0,1175.9 1052.2,1175.9 1053.0,1177.1 1053.4,1176.8 1053.6,1177.1 1053.8,1177.1 1054.2,1176.6 1054.6,1176.6 1055.4,1174.1 1055.8,1173.4 1056.4,1174.6 1057.2,1174.3 1057.6,1174.7 1057.8,1174.7 1058.2,1174.9 1058.4,1174.8 1059.0,1175.0 1060.0,1176.8 1060.4,1177.1 1061.2,1176.9 1061.4,1176.6 1061.6,1176.7 1062.4,1177.5 1063.4,1177.3 1064.4,1176.6 1065.6,1174.1 1066.2,1174.0 1067.4,1176.7 1068.0,1177.1 1068.8,1175.7 1069.8,1171.4 1070.2,1170.9 1070.6,1171.8 1071.6,1176.1 1072.0,1176.4 1072.4,1176.3 1072.8,1177.0 1073.2,1177.2 1073.4,1177.3 1073.6,1177.1 1074.2,1177.5 1074.4,1177.1 1074.6,1177.2 1075.0,1176.7 1075.6,1175.5 1076.0,1175.1 1076.7,1172.4 1076.9,1172.3 1077.4,1173.5 1077.8,1172.6 1078.4,1172.0 1078.8,1172.1 1079.2,1172.6 1080.8,1175.8 1081.6,1175.2 1082.6,1176.6 1083.2,1176.8 1084.0,1176.2 1084.8,1175.0 1085.2,1175.2 1085.6,1175.9 1085.8,1175.9 1086.6,1177.2 1087.2,1177.1 1088.2,1174.5 1088.6,1174.1 1089.6,1176.7 1090.6,1172.1 1090.8,1171.8 1091.0,1172.1 1092.0,1176.4 1092.2,1176.4 1093.0,1175.2 1093.8,1175.4 1094.0,1175.1 1094.2,1175.4 1095.0,1175.2 1096.2,1177.0 1097.2,1175.5 1097.4,1175.4 1098.0,1176.1 1099.5,1140.4 1100.4,1163.2 1100.6,1164.2 1101.0,1160.7 1101.4,1160.7 1102.4,1172.3 1102.6,1172.9 1102.8,1172.4 1103.0,1172.4 1104.0,1177.0 1104.2,1176.9 1104.6,1177.0 1104.8,1176.7 1105.0,1177.0 1105.2,1176.6 1105.4,1176.6 1106.4,1177.5 1108.8,1177.5 1109.6,1176.9 1110.0,1176.8 1110.2,1177.1 1110.4,1176.9 1111.2,1176.8 1111.8,1175.5 1112.6,1174.5 1113.6,1176.8 1113.8,1176.7 1114.0,1177.2 1114.2,1177.1 1114.4,1177.5 1115.0,1177.3 1116.0,1176.3 1116.4,1176.5 1116.6,1176.4 1116.8,1176.6 1117.4,1176.3 1118.4,1175.1 1119.2,1174.7 1119.6,1173.8 1120.0,1174.2 1120.8,1176.7 1121.6,1177.1 1122.0,1176.6 1122.6,1175.0 1123.0,1175.3 1123.4,1176.9 1123.6,1177.0 1124.6,1173.1 1124.9,1172.5 1125.2,1173.1 1126.0,1176.5 1126.2,1177.0 1126.6,1176.9 1127.6,1174.6 1127.8,1174.4 1128.2,1174.4 1128.8,1170.1 1129.1,1169.2 1129.4,1170.2 1130.2,1176.0 1130.4,1176.7 1130.8,1177.2 1131.2,1176.6 1131.8,1174.5 1132.4,1176.3 1132.8,1176.4 1134.0,1174.6 1134.8,1175.0 1135.0,1175.3 1135.2,1175.2 1135.4,1175.6 1136.2,1174.0 1136.5,1173.8 1136.8,1174.1 1138.0,1176.8 1138.4,1176.4 1138.6,1176.5 1139.0,1176.1 1139.4,1176.1 1139.8,1176.3 1140.6,1177.4 1141.4,1177.4 1142.2,1175.2 1143.2,1170.2 1143.4,1170.2 1143.6,1170.9 1144.4,1175.2 1144.8,1176.3 1145.6,1177.4 1146.6,1177.3 1147.2,1176.3 1148.4,1172.0 1148.8,1172.2 1149.0,1171.9 1149.1,1172.1 1149.6,1174.7 1150.2,1176.3 1150.6,1176.5 1150.8,1176.2 1151.0,1171.7 1152.3,1092.7 1153.4,1157.3 1154.2,1136.8 1154.4,1136.8 1155.6,1169.4 1156.0,1165.0 1156.2,1163.6 1156.3,1163.4 1156.4,1163.6 1157.4,1174.9 1157.6,1176.1 1157.8,1176.5 1158.0,1176.4 1158.2,1176.2 1158.4,1156.1 1160.1,868.9 1161.4,1095.0 1161.6,1107.5 1162.3,1046.6 1163.4,1141.7 1163.8,1144.5 1165.4,1175.3 1165.6,1176.2 1166.4,1176.9 1167.4,1175.7 1168.8,1173.1 1169.6,1172.5 1170.0,1172.6 1170.6,1173.4 1172.2,1176.4 1172.8,1177.0 1173.6,1177.4 1174.2,1177.0 1174.6,1176.3 1175.8,1173.0 1176.2,1173.3 1177.2,1176.1 1177.8,1173.4 1178.2,1172.5 1178.6,1173.5 1179.2,1176.2 1179.6,1177.1 1179.8,1177.1 1180.8,1176.1 1181.2,1176.0 1181.8,1174.7 1182.0,1174.8 1182.8,1173.4 1183.0,1173.4 1183.2,1173.8 1183.8,1175.7 1184.2,1175.8 1184.6,1175.1 1185.2,1172.9 1185.6,1172.9 1185.8,1172.7 1186.2,1173.0 1187.0,1176.4 1187.4,1177.1 1187.8,1177.2 1188.4,1176.5 1189.4,1174.1 1189.9,1173.5 1190.4,1174.1 1191.4,1176.5 1192.2,1177.4 1193.2,1177.2 1193.6,1176.8 1194.0,1177.0 1195.2,1174.8 1195.6,1174.8 1196.2,1175.2 1197.2,1176.5 1198.2,1177.2 1198.8,1176.8 1199.2,1175.7 1199.4,1175.7 1201.0,1045.1 1202.0,1133.8 1202.2,1134.7 1202.8,1114.7 1204.2,1167.8 1204.8,1161.1 1205.0,1160.3 1205.2,1160.4 1205.4,1161.1 1206.6,1174.8 1207.0,1173.4 1207.2,1173.5 1208.0,1176.7 1208.6,1177.4 1209.2,1177.5 1209.4,1177.2 1209.8,1177.4 1210.4,1176.8 1211.2,1172.7 1211.4,1172.5 1212.0,1174.7 1212.4,1174.9 1212.6,1174.6 1213.4,1177.1 1214.2,1177.1 1215.4,1174.8 1216.4,1177.3 1217.0,1177.5 1218.0,1177.6 1219.2,1177.4 1219.4,1177.6 1219.6,1177.4 1220.2,1176.4 1220.6,1176.2 1221.4,1173.8 1222.4,1175.5 1223.0,1175.7 1223.8,1176.9 1224.6,1177.4 1224.8,1177.2 1225.4,1177.3 1225.8,1177.0 1226.2,1176.5 1227.0,1176.6 1227.6,1176.0 1228.0,1176.2 1228.6,1177.3 1229.0,1177.3 1229.8,1176.5 1231.0,1173.7 1231.5,1173.3 1232.0,1173.9 1233.2,1176.4 1234.0,1176.0 1235.2,1176.7 1236.0,1176.3 1237.2,1177.4 1237.6,1177.5 1238.4,1177.3 1240.2,1177.5 1241.2,1177.2 1241.6,1177.4 1242.8,1176.9 1243.0,1177.3 1243.2,1177.0 1243.6,1176.9 1244.0,1177.3 1245.2,1176.0 1245.6,1176.2 1246.4,1177.3 1247.6,1177.5 1248.8,1175.9 1249.4,1175.6 1249.6,1175.8 1249.8,1175.4 1250.0,1175.8 1250.8,1176.1 1251.4,1176.7 1251.6,1177.2 1252.2,1177.2 1254.0,1175.5 1254.4,1175.7 1255.2,1177.2 1256.0,1177.3 1256.4,1177.0 1256.8,1177.5 1257.2,1177.5 1257.4,1177.8 1258.2,1177.4 1258.6,1177.6 1259.0,1177.0 1259.2,1177.2 1259.8,1176.9 1261.0,1177.0 1261.2,1176.9 1261.4,1177.4 1261.6,1177.2 1262.2,1177.5 1262.4,1177.3 1263.0,1177.7 1263.2,1177.5 1263.6,1177.6 1264.2,1177.2 1264.6,1177.4 1265.2,1177.3 1265.6,1177.5 1266.6,1177.5 1266.8,1177.4 1267.2,1177.6 1268.0,1177.4 1268.4,1177.6 1269.0,1177.2 1269.2,1177.4 1269.4,1177.2 1269.6,1177.2 1270.2,1176.9 1271.2,1175.5 1271.4,1175.8 1271.6,1175.5 1271.8,1175.4 1272.6,1177.2 1273.2,1177.7 1273.6,1177.6 1274.2,1178.0 1275.4,1177.5 1276.0,1176.8 1276.6,1176.4 1277.0,1176.4 1277.8,1177.2 1278.0,1177.0 1278.2,1177.2 1278.6,1177.1 1279.4,1177.5 1281.0,1176.8 1282.4,1177.3 1282.8,1177.2 1283.2,1177.6 1283.4,1177.5 1283.6,1177.7 1283.8,1177.4 1284.0,1177.5 1284.4,1177.3 1284.6,1176.9 1284.8,1177.1 1285.0,1176.9 1285.6,1177.5 1287.0,1177.3 1287.4,1177.1 1288.4,1175.5 1289.4,1177.2 1290.0,1177.2 1290.6,1177.6 1291.8,1177.4 1292.0,1177.5 1292.4,1177.2 1293.4,1177.5 1293.8,1177.2 1294.2,1177.5 1294.4,1177.3 1294.6,1177.5 1295.4,1176.5 1295.8,1176.7 1296.4,1177.6 1296.6,1177.6 1297.4,1177.1 1297.6,1177.2 1297.8,1176.9 1298.0,1177.0 1298.6,1176.3 1299.4,1177.0 1300.0,1177.1 1300.2,1177.5 1300.6,1177.3 1300.8,1177.5 1303.0,1177.5 1303.6,1176.9 1304.0,1177.3 1304.2,1177.1 1304.4,1177.3 1305.8,1176.1 1306.6,1177.0 1307.2,1177.3 1307.6,1176.5 1308.6,1170.1 1309.6,1176.4 1309.8,1176.4 1310.4,1174.2 1310.8,1173.4 1311.2,1174.2 1312.0,1176.9 1312.2,1176.7 1312.8,1174.4 1313.6,1175.6 1314.4,1174.9 1315.0,1175.4 1316.0,1176.9 1316.4,1176.8 1316.8,1177.2 1317.0,1177.0 1317.2,1177.3 1317.4,1177.1 1318.4,1177.5 1318.6,1177.1 1319.2,1177.4 1321.6,1177.5 1321.8,1177.2 1322.8,1177.7 1323.4,1177.5 1323.6,1177.9 1324.0,1177.5 1324.6,1177.3 1325.6,1176.5 1325.8,1176.7 1326.2,1176.4 1326.8,1176.3 1327.6,1177.0 1327.8,1177.0 1328.0,1177.3 1329.8,1177.9 1330.0,1177.7 1330.4,1177.8 1330.8,1177.6 1331.0,1177.7 1331.4,1177.3 1332.0,1177.2 1332.2,1177.0 1333.0,1177.4 1333.6,1177.3 1333.8,1177.7 1334.0,1177.3 1334.4,1177.5 1334.8,1177.3 1335.0,1177.4 1335.6,1177.0 1336.2,1177.4 1336.4,1177.2 1336.8,1177.3 1337.2,1177.0 1338.8,1177.3 1339.0,1177.5 1339.2,1177.4 1339.6,1177.7 1340.6,1177.1 1341.2,1177.5 1342.0,1177.7 1342.4,1177.2 1343.0,1177.3 1343.8,1176.6 1344.4,1176.7 1345.0,1177.2 1346.0,1177.3 1346.4,1176.9 1346.6,1176.2 1346.8,1176.1 1347.4,1176.8 1348.0,1176.9 1348.6,1177.2 1350.0,1177.5 1350.8,1177.5 1351.2,1177.2 1351.4,1177.3 1351.6,1176.9 1351.8,1177.0 1352.2,1176.8 1352.4,1177.1 1352.8,1176.9 1353.0,1177.2 1353.2,1177.0 1353.4,1177.2 1354.2,1177.0 1354.4,1177.1 1355.0,1176.8 1355.2,1177.0 1355.4,1176.9 1356.2,1177.4 1356.4,1177.3 1357.0,1177.6 1358.0,1177.5 1358.8,1176.7 1359.2,1177.3 1359.8,1177.1 1360.4,1177.2 1361.6,1173.5 1362.6,1176.6 1362.8,1176.5 1363.0,1176.7 1363.2,1176.5 1363.6,1176.9 1364.6,1177.3 1365.6,1177.0 1366.4,1177.2 1366.6,1177.5 1366.8,1177.3 1367.2,1177.5 1370.0,1177.5 1370.8,1176.9 1371.6,1174.2 1372.0,1173.4 1372.2,1173.5 1373.0,1176.3 1373.2,1176.4 1374.0,1174.0 1375.0,1177.0 1375.4,1177.3 1376.4,1177.3 1377.2,1176.6 1377.4,1176.9 1378.4,1177.4 1380.8,1177.5 1382.4,1175.5 1383.0,1175.1 1383.6,1175.3 1385.0,1177.3 1386.0,1177.7 1386.4,1177.4 1386.6,1177.7 1387.0,1177.4 1387.4,1177.4 1387.6,1177.3 1387.8,1177.4 1388.0,1177.2 1388.4,1177.2 1388.8,1177.0 1389.8,1177.6 1390.2,1177.3 1390.4,1177.5 1392.2,1176.6 1392.4,1176.8 1393.6,1177.1 1393.8,1176.9 1394.8,1177.3 1395.6,1176.4 1396.6,1177.9 1396.8,1177.6 1397.2,1177.5 1397.4,1177.8 1398.2,1177.3 1398.6,1177.4 1399.4,1176.1 1400.6,1177.0 1400.8,1177.1 1401.0,1176.9 1402.0,1177.5 1403.0,1177.3 1403.6,1177.4 1404.4,1177.3 1404.6,1177.2 1405.2,1177.5 1405.8,1177.4 1406.0,1177.7 1407.0,1177.7 1407.2,1177.5 1407.8,1177.7 1408.4,1177.1 1409.4,1176.8 1410.8,1177.0 1411.0,1176.9 1411.6,1177.3 1411.8,1177.2 1412.2,1177.4 1413.0,1176.6 1413.8,1174.6 1414.2,1174.8 1415.0,1176.9 1415.6,1177.2 1415.8,1177.5 1416.0,1177.3 1416.6,1177.5 1417.2,1177.4 1417.4,1177.6 1418.8,1177.6 1419.2,1177.1 1419.6,1177.1 1419.8,1176.7 1421.0,1176.4 1421.2,1176.7 1421.8,1176.2 1422.2,1175.6 1422.8,1176.2 1423.2,1177.0 1424.0,1177.6 1424.6,1177.6 1424.8,1177.8 1425.0,1177.5 1425.2,1177.7 1425.4,1177.3 1425.6,1177.5 1426.4,1176.1 1426.8,1175.9 1427.6,1177.0 1428.0,1176.9 1428.2,1177.4 1428.8,1177.3 1429.0,1177.5 1429.2,1177.2 1429.6,1177.6 1429.8,1177.2 1430.2,1177.2 1430.4,1177.3 1430.6,1177.1 1431.2,1177.4 1431.4,1177.1 1431.6,1177.3 1432.6,1176.9 1433.2,1177.4 1433.6,1177.4 1433.8,1177.6 1434.0,1177.4 1434.4,1177.9 1435.0,1177.7 1435.2,1177.9 1435.8,1177.7 1436.8,1177.1 1437.6,1176.9 1438.6,1175.1 1439.2,1172.4 1439.4,1172.4 1439.6,1173.1 1440.4,1176.5 1441.2,1177.5 1442.8,1177.5 1443.4,1177.3 1443.6,1177.5 1446.6,1177.5 1448.2,1176.6 1448.6,1176.8 1449.6,1173.6 1450.0,1172.9 1450.2,1173.1 1451.2,1176.3 1452.0,1174.6 1452.3,1174.5 1453.4,1176.8 1454.2,1177.4 1454.4,1177.2 1454.8,1177.3 1455.4,1177.0 1456.8,1177.5 1458.0,1177.4 1458.6,1176.9 1458.8,1177.2 1459.0,1176.8 1459.2,1177.0 1459.6,1176.8 1459.8,1177.0 1461.0,1175.9 1462.4,1175.6 1463.0,1177.3 1463.2,1177.2 1463.4,1177.5 1463.8,1177.5 1464.6,1177.2 1465.4,1175.6 1466.0,1176.6 1466.4,1176.9 1466.6,1176.8 1466.8,1177.1 1467.2,1177.1 1467.4,1177.4 1468.0,1177.3 1468.4,1177.5 1468.8,1177.3 1469.2,1177.4 1470.2,1176.3 1470.8,1176.8 1472.0,1176.8 1472.2,1177.0 1472.8,1177.0 1473.0,1177.2 1473.4,1177.0 1473.8,1176.1 1474.2,1176.0 1475.0,1176.9 1475.4,1176.9 1476.6,1175.5 1477.0,1175.4 1477.4,1175.5 1478.8,1177.1 1479.6,1177.5 1480.4,1177.1 1481.0,1177.5 1482.4,1177.1 1483.6,1177.4 1484.4,1176.7 1485.2,1176.8 1485.8,1177.2 1486.2,1177.2 1486.4,1177.0 1486.8,1177.2 1487.0,1176.9 1487.4,1177.2 1488.0,1177.1 1488.6,1177.3 1488.8,1177.2 1489.0,1177.4 1489.4,1177.4 1490.2,1176.8 1491.2,1177.3 1491.6,1176.8 1492.2,1176.6 1492.8,1176.8 1493.0,1177.1 1493.6,1176.9 1494.4,1177.0 1494.8,1176.9 1495.0,1177.1 1495.4,1177.0 1496.6,1177.4 1496.8,1177.1 1497.0,1177.4 1497.2,1177.2 1497.6,1177.5 1498.6,1177.5 1498.8,1177.3 1499.4,1177.6 1499.6,1177.4 1500.0,1177.7 1500.2,1177.4 1500.6,1177.7 1500.8,1177.6 1501.0,1177.8 1502.6,1177.6 1502.8,1177.3 1503.0,1177.5 1504.0,1176.9 1504.2,1177.1 1505.0,1176.8 1506.2,1177.2 1506.6,1177.6 1506.8,1177.4 1507.2,1177.7 1507.4,1177.5 1507.6,1177.7 1508.6,1176.4 1509.2,1176.0 1509.8,1176.8 1510.4,1177.1 1510.6,1177.4 1510.8,1177.2 1511.4,1177.5 1511.6,1177.3 1512.0,1177.4 1512.2,1177.2 1512.4,1177.5 1512.8,1177.6 1514.8,1177.1 1515.0,1177.3 1515.2,1176.9 1515.4,1177.2 1516.0,1177.2 1516.2,1177.0 1516.4,1177.4 1516.8,1177.3 1517.2,1177.6 1518.4,1178.0 1518.6,1177.8 1518.8,1178.0 1519.2,1177.7 1519.6,1177.9 1519.8,1177.6 1520.4,1177.5 1520.8,1177.2 1521.6,1177.0 1522.6,1174.6 1522.8,1174.7 1523.6,1176.9 1524.2,1177.1 1524.4,1177.4 1524.8,1177.3 1525.2,1177.6 1525.8,1177.2 1526.2,1177.4 1526.6,1177.1 1526.8,1177.4 1527.0,1177.2 1527.6,1177.0 1528.8,1177.6 1529.0,1177.5 1529.4,1177.9 1529.6,1177.6 1529.8,1177.8 1530.0,1177.5 1530.4,1177.6 1531.4,1176.3 1531.6,1176.6 1532.0,1176.4 1532.2,1176.6 1532.6,1176.4 1532.8,1176.5 1533.2,1176.3 1533.4,1176.5 1534.4,1176.3 1535.2,1177.0 1535.4,1176.9 1535.8,1177.5 1536.6,1177.7 1538.4,1177.3 1539.6,1177.5 1539.8,1177.2 1540.4,1177.6 1540.6,1177.3 1540.8,1177.5 1541.2,1177.5 1541.8,1177.4 1542.0,1177.1 1542.2,1177.2 1543.2,1175.0 1543.6,1174.9 1544.6,1177.1 1545.4,1177.6 1546.4,1177.9 1546.6,1177.6 1547.0,1177.9 1547.8,1177.6 1548.0,1177.2 1548.2,1177.2 1548.6,1176.7 1549.6,1177.1 1550.0,1177.1 1550.2,1176.9 1551.6,1177.6 1552.0,1177.3 1552.4,1177.5 1552.8,1177.3 1553.0,1177.4 1554.0,1177.3 1554.2,1177.1 1554.6,1177.1 1555.0,1176.6 1555.6,1177.4 1556.6,1176.1 1557.0,1176.3 1557.6,1177.5 1557.8,1177.4 1558.0,1177.6 1558.2,1177.5 1558.8,1177.7 1559.4,1177.0 1559.6,1177.2 1559.8,1176.9 1560.0,1177.0 1560.6,1176.6 1561.2,1176.5 1561.8,1177.1 1562.6,1177.6 1563.0,1177.4 1563.6,1177.7 1563.8,1177.4 1564.0,1177.8 1564.4,1177.5 1564.8,1177.6 1566.0,1177.3 1566.2,1177.5 1566.8,1177.3 1567.2,1177.7 1567.4,1177.5 1568.0,1177.6 1568.8,1177.3 1569.2,1177.5 1569.4,1177.3 1569.8,1177.4 1570.6,1176.5 1571.4,1176.1 1571.8,1176.3 1572.0,1176.8 1572.6,1176.9 1572.8,1177.4 1573.4,1177.8 1573.6,1177.6 1574.4,1177.5 1574.6,1177.7 1575.8,1177.4 1576.0,1177.2 1576.6,1177.4 1577.0,1177.1 1577.6,1176.2 1578.0,1176.3 1578.2,1176.8 1578.4,1176.8 1579.0,1177.5 1580.2,1177.5 1580.8,1177.2 1581.2,1177.4 1581.8,1177.1 1582.4,1176.0 1582.6,1176.3 1583.4,1176.3 1584.2,1176.9 1584.4,1177.3 1584.6,1177.2 1585.0,1177.5 1587.0,1176.6 1588.2,1171.1 1588.4,1171.3 1588.8,1173.3 1589.0,1173.3 1589.4,1171.7 1589.8,1171.2 1590.8,1174.1 1591.2,1173.5 1591.6,1173.5 1593.2,1176.8 1593.8,1177.3 1594.4,1177.2 1594.6,1177.5 1595.6,1177.0 1596.6,1177.5 1597.0,1177.5 1599.0,1176.8 1599.4,1177.1 1600.6,1176.9 1601.8,1177.5 1603.8,1177.7 1604.2,1177.0 1605.0,1176.5 1606.2,1177.4 1606.6,1177.2 1607.2,1177.4 1607.6,1177.2 1607.8,1177.4 1608.8,1177.2 1609.0,1177.0 1609.6,1177.2 1609.8,1177.0 1610.0,1177.3 1610.6,1177.1 1610.8,1177.3 1611.4,1177.1 1612.0,1175.9 1612.4,1175.6 1613.0,1177.1 1613.6,1177.7 1614.0,1177.5 1614.2,1177.1 1614.4,1177.3 1615.0,1176.9 1615.4,1177.1 1616.0,1176.9 1616.6,1177.1 1616.8,1176.9 1617.2,1177.3 1617.8,1177.1 1618.0,1177.2 1618.8,1177.3 1619.0,1177.0 1619.8,1177.4 1620.2,1177.3 1620.4,1177.4 1620.6,1177.2 1621.2,1177.4 1621.8,1177.0 1622.0,1176.7 1622.4,1176.7 1623.2,1177.3 1623.6,1177.0 1624.6,1177.5 1626.2,1177.0 1626.6,1177.2 1626.8,1176.9 1627.6,1177.1 1627.8,1176.8 1628.2,1177.0 1628.4,1176.8 1629.2,1173.0 1630.0,1176.9 1630.2,1177.4 1630.6,1177.5 1631.6,1177.5 1631.8,1177.3 1632.2,1177.4 1632.8,1177.1 1633.0,1177.3 1633.2,1177.2 1633.4,1177.0 1633.6,1177.0 1634.4,1175.6 1634.6,1175.8 1634.8,1175.4 1635.6,1177.0 1636.2,1177.4 1637.2,1177.0 1637.4,1177.2 1637.6,1177.0 1638.0,1177.3 1638.2,1177.0 1639.6,1177.5 1641.4,1177.5 1641.8,1177.2 1642.2,1177.3 1643.0,1176.8 1643.4,1176.8 1643.6,1177.1 1643.8,1176.8 1644.4,1177.0 1645.2,1176.4 1645.8,1176.3 1646.2,1176.4 1646.6,1177.1 1647.4,1177.5 1647.8,1177.4 1648.0,1177.6 1648.2,1177.2 1648.4,1177.6 1648.8,1177.2 1650.2,1177.1 1650.4,1177.4 1650.8,1177.4 1651.0,1177.6 1651.6,1176.4 1652.0,1176.2 1652.2,1176.7 1653.0,1177.2 1653.4,1176.9 1654.4,1176.8 1655.0,1177.1 1655.2,1176.8 1655.6,1177.0 1656.4,1176.6 1656.6,1177.1 1657.0,1177.1 1657.2,1177.5 1657.4,1177.3 1657.6,1177.6 1658.4,1177.7 1658.6,1177.5 1659.2,1177.7 1659.4,1177.4 1660.2,1177.4 1661.4,1176.7 1662.8,1177.4 1663.4,1177.1 1663.6,1177.5 1663.8,1177.3 1664.2,1177.4 1664.6,1177.1 1664.8,1177.3 1665.0,1177.1 1665.8,1176.9 1666.2,1177.2 1666.4,1177.1 1666.6,1177.4 1667.0,1177.4 1667.8,1176.6 1668.2,1177.4 1668.4,1177.6 1668.6,1177.6 1668.8,1178.0 1669.2,1177.8 1669.4,1178.0 1670.2,1177.0 1670.8,1175.8 1671.2,1175.7 1671.4,1175.7 1672.0,1176.7 1673.6,1177.2 1673.8,1177.1 1674.2,1177.4 1674.4,1177.3 1674.8,1177.4 1675.4,1176.7 1675.6,1177.1 1675.8,1177.0 1676.0,1177.4 1676.6,1177.4 1676.8,1177.1 1677.4,1177.5 1677.6,1177.2 1677.8,1177.5 1678.2,1177.2 1678.8,1177.2 1679.2,1177.4 1679.8,1177.3 1680.0,1177.6 1681.0,1177.5 1681.4,1177.0 1682.0,1176.6 1682.6,1176.9 1683.2,1176.8 1683.6,1177.2 1683.8,1176.8 1684.0,1177.2 1685.0,1177.2 1685.6,1177.7 1686.4,1177.3 1686.6,1177.5 1686.8,1177.3 1687.0,1177.6 1687.2,1177.4 1687.8,1177.5 1688.0,1177.3 1688.6,1177.5 1688.8,1177.3 1689.0,1177.5 1689.4,1177.5 1690.0,1177.4 1690.2,1177.1 1690.4,1177.3 1692.4,1175.7 1692.6,1176.1 1692.8,1176.1 1693.2,1176.6 1693.4,1176.6 1693.8,1177.0 1694.8,1177.4 1696.0,1177.5 1697.2,1176.9 1698.0,1177.2 1699.2,1175.6 1699.6,1175.4 1701.0,1177.1 1702.4,1177.5 1702.6,1177.3 1703.6,1177.4 1704.4,1177.1 1704.6,1177.4 1705.0,1177.2 1705.4,1177.4 1705.6,1177.3 1705.8,1177.5 1706.0,1177.3 1706.4,1177.3 1706.8,1177.0 1707.4,1177.5 1708.0,1177.5 1708.2,1177.4 1709.0,1177.5 1709.6,1177.1 1710.6,1176.9 1711.2,1176.9 1711.4,1177.2 1711.6,1177.0 1712.0,1177.1 1713.2,1176.0 1713.8,1176.1 1714.6,1175.1 1715.0,1175.3 1715.8,1176.7 1716.4,1177.2 1717.8,1177.7 1718.0,1177.5 1720.2,1177.3 1721.0,1176.6 1721.2,1176.1 1721.6,1175.9 1722.2,1176.1 1723.2,1177.5 1724.8,1177.3 1725.0,1177.5 1726.0,1177.5 1726.6,1177.5 1727.0,1177.2 1727.2,1177.4 1727.6,1177.1 1727.8,1177.2 1728.2,1176.9 1729.6,1173.8 1730.1,1173.4 1731.4,1176.3 1732.0,1177.1 1733.2,1174.3 1733.5,1174.0 1733.8,1174.3 1734.6,1176.4 1734.8,1176.4 1735.0,1176.2 1735.6,1177.4 1736.2,1176.7 1736.9,1174.5 1737.2,1174.7 1738.0,1177.0 1738.8,1176.8 1739.5,1174.5 1740.2,1176.8 1740.4,1177.2 1740.8,1177.5 1741.2,1177.1 1741.4,1177.2 1742.2,1176.8 1742.8,1177.2 1743.2,1177.1 1743.4,1177.5 1743.8,1177.3 1744.6,1177.5 1746.8,1177.5 1748.6,1176.9 1749.2,1176.9 1749.4,1176.6 1749.6,1176.9 1750.2,1176.9 1750.6,1177.5 1750.8,1177.1 1751.0,1177.4 1751.8,1177.7 1752.2,1177.6 1753.0,1174.5 1753.6,1176.0 1753.8,1176.3 1754.4,1176.0 1755.0,1177.1 1755.4,1177.4 1755.8,1177.2 1756.6,1177.2 1756.8,1177.4 1757.4,1177.2 1757.6,1177.5 1758.0,1177.3 1759.2,1177.3 1760.0,1177.1 1760.2,1177.3 1760.4,1177.1 1760.6,1177.3 1760.8,1177.1 1761.0,1177.5 1761.2,1177.1 1762.0,1177.7 1763.2,1177.8 1763.4,1177.7 1763.8,1177.9 1765.0,1177.1 1765.2,1176.6 1765.8,1176.0 1766.6,1176.9 1767.0,1176.9 1767.4,1177.3" fill="none" stroke="#1d1b1a" stroke-width="1.15" stroke-linejoin="round"/>
<line x1="61.30" y1="1177.90" x2="1768.50" y2="1177.90" stroke="#85817e" stroke-width="1.4"/>
</g>
</svg></body></html>
